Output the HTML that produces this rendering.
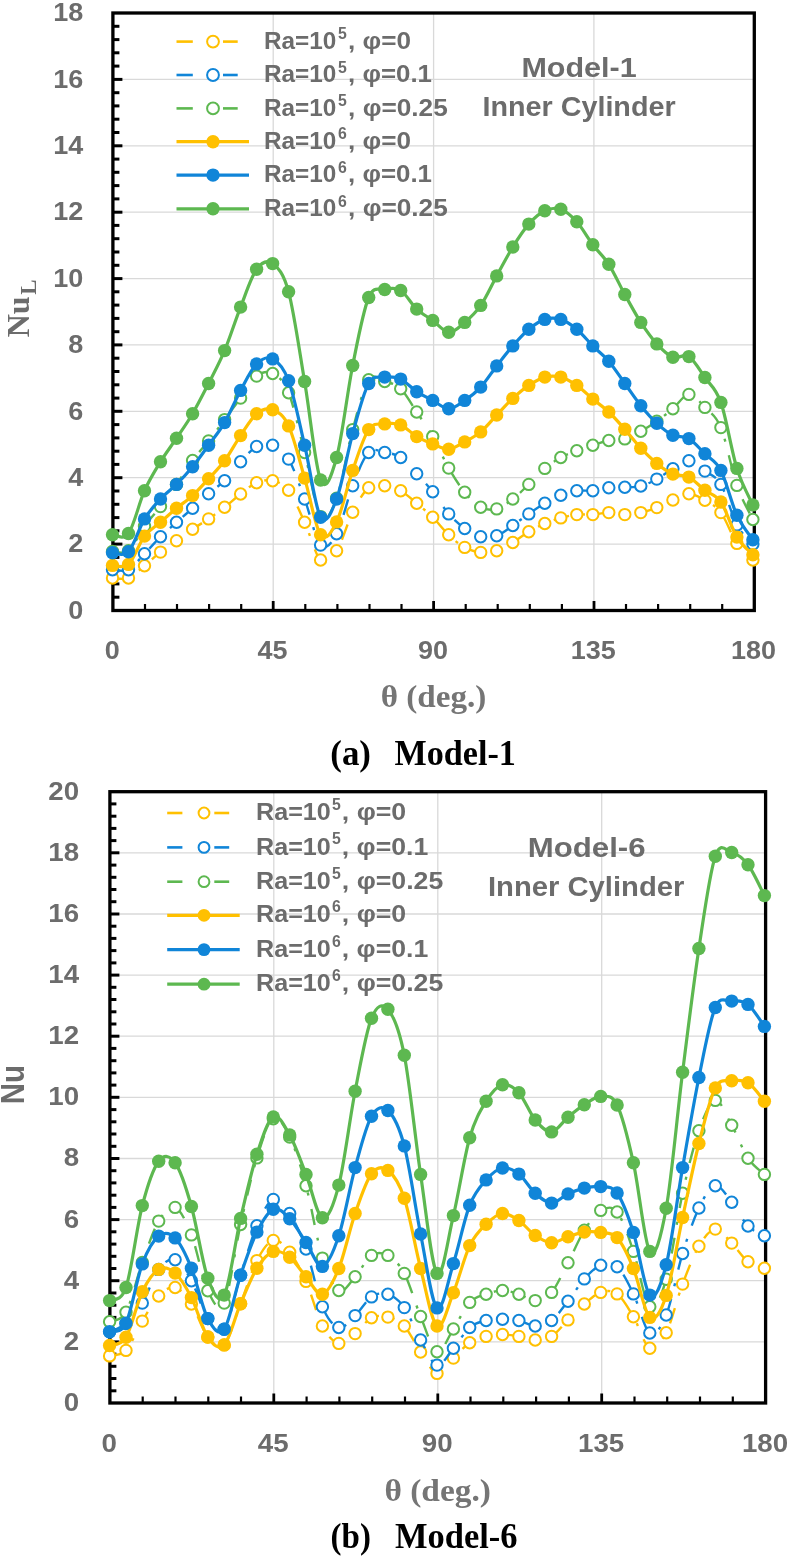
<!DOCTYPE html>
<html><head><meta charset="utf-8"><title>Nu charts</title>
<style>html,body{margin:0;padding:0;background:#fff}svg{display:block;filter:blur(0.45px)}</style>
</head><body>
<svg width="792" height="1557" viewBox="0 0 792 1557">
<rect width="792" height="1557" fill="#fff"/>
<line x1="112.9" y1="544.1" x2="754.3" y2="544.1" stroke="#d9d9d9" stroke-width="1.3"/>
<line x1="112.9" y1="477.7" x2="754.3" y2="477.7" stroke="#d9d9d9" stroke-width="1.3"/>
<line x1="112.9" y1="411.3" x2="754.3" y2="411.3" stroke="#d9d9d9" stroke-width="1.3"/>
<line x1="112.9" y1="344.9" x2="754.3" y2="344.9" stroke="#d9d9d9" stroke-width="1.3"/>
<line x1="112.9" y1="278.6" x2="754.3" y2="278.6" stroke="#d9d9d9" stroke-width="1.3"/>
<line x1="112.9" y1="212.2" x2="754.3" y2="212.2" stroke="#d9d9d9" stroke-width="1.3"/>
<line x1="112.9" y1="145.8" x2="754.3" y2="145.8" stroke="#d9d9d9" stroke-width="1.3"/>
<line x1="112.9" y1="79.4" x2="754.3" y2="79.4" stroke="#d9d9d9" stroke-width="1.3"/>
<line x1="273.2" y1="13.0" x2="273.2" y2="610.5" stroke="#d9d9d9" stroke-width="1.3"/>
<line x1="433.6" y1="13.0" x2="433.6" y2="610.5" stroke="#d9d9d9" stroke-width="1.3"/>
<line x1="593.9" y1="13.0" x2="593.9" y2="610.5" stroke="#d9d9d9" stroke-width="1.3"/>
<rect x="112.9" y="13.0" width="641.4" height="597.5" fill="none" stroke="#000" stroke-width="3.3"/>
<g stroke="#000">
<line x1="112.9" y1="597.2" x2="119.4" y2="597.2" stroke-width="3"/>
<line x1="112.9" y1="583.9" x2="119.4" y2="583.9" stroke-width="3"/>
<line x1="112.9" y1="570.7" x2="119.4" y2="570.7" stroke-width="3"/>
<line x1="112.9" y1="557.4" x2="119.4" y2="557.4" stroke-width="3"/>
<line x1="112.9" y1="544.1" x2="122.4" y2="544.1" stroke-width="3"/>
<line x1="112.9" y1="530.8" x2="119.4" y2="530.8" stroke-width="3"/>
<line x1="112.9" y1="517.6" x2="119.4" y2="517.6" stroke-width="3"/>
<line x1="112.9" y1="504.3" x2="119.4" y2="504.3" stroke-width="3"/>
<line x1="112.9" y1="491.0" x2="119.4" y2="491.0" stroke-width="3"/>
<line x1="112.9" y1="477.7" x2="122.4" y2="477.7" stroke-width="3"/>
<line x1="112.9" y1="464.4" x2="119.4" y2="464.4" stroke-width="3"/>
<line x1="112.9" y1="451.2" x2="119.4" y2="451.2" stroke-width="3"/>
<line x1="112.9" y1="437.9" x2="119.4" y2="437.9" stroke-width="3"/>
<line x1="112.9" y1="424.6" x2="119.4" y2="424.6" stroke-width="3"/>
<line x1="112.9" y1="411.3" x2="122.4" y2="411.3" stroke-width="3"/>
<line x1="112.9" y1="398.1" x2="119.4" y2="398.1" stroke-width="3"/>
<line x1="112.9" y1="384.8" x2="119.4" y2="384.8" stroke-width="3"/>
<line x1="112.9" y1="371.5" x2="119.4" y2="371.5" stroke-width="3"/>
<line x1="112.9" y1="358.2" x2="119.4" y2="358.2" stroke-width="3"/>
<line x1="112.9" y1="344.9" x2="122.4" y2="344.9" stroke-width="3"/>
<line x1="112.9" y1="331.7" x2="119.4" y2="331.7" stroke-width="3"/>
<line x1="112.9" y1="318.4" x2="119.4" y2="318.4" stroke-width="3"/>
<line x1="112.9" y1="305.1" x2="119.4" y2="305.1" stroke-width="3"/>
<line x1="112.9" y1="291.8" x2="119.4" y2="291.8" stroke-width="3"/>
<line x1="112.9" y1="278.6" x2="122.4" y2="278.6" stroke-width="3"/>
<line x1="112.9" y1="265.3" x2="119.4" y2="265.3" stroke-width="3"/>
<line x1="112.9" y1="252.0" x2="119.4" y2="252.0" stroke-width="3"/>
<line x1="112.9" y1="238.7" x2="119.4" y2="238.7" stroke-width="3"/>
<line x1="112.9" y1="225.4" x2="119.4" y2="225.4" stroke-width="3"/>
<line x1="112.9" y1="212.2" x2="122.4" y2="212.2" stroke-width="3"/>
<line x1="112.9" y1="198.9" x2="119.4" y2="198.9" stroke-width="3"/>
<line x1="112.9" y1="185.6" x2="119.4" y2="185.6" stroke-width="3"/>
<line x1="112.9" y1="172.3" x2="119.4" y2="172.3" stroke-width="3"/>
<line x1="112.9" y1="159.1" x2="119.4" y2="159.1" stroke-width="3"/>
<line x1="112.9" y1="145.8" x2="122.4" y2="145.8" stroke-width="3"/>
<line x1="112.9" y1="132.5" x2="119.4" y2="132.5" stroke-width="3"/>
<line x1="112.9" y1="119.2" x2="119.4" y2="119.2" stroke-width="3"/>
<line x1="112.9" y1="105.9" x2="119.4" y2="105.9" stroke-width="3"/>
<line x1="112.9" y1="92.7" x2="119.4" y2="92.7" stroke-width="3"/>
<line x1="112.9" y1="79.4" x2="122.4" y2="79.4" stroke-width="3"/>
<line x1="112.9" y1="66.1" x2="119.4" y2="66.1" stroke-width="3"/>
<line x1="112.9" y1="52.8" x2="119.4" y2="52.8" stroke-width="3"/>
<line x1="112.9" y1="39.6" x2="119.4" y2="39.6" stroke-width="3"/>
<line x1="112.9" y1="26.3" x2="119.4" y2="26.3" stroke-width="3"/>
<line x1="145.0" y1="610.5" x2="145.0" y2="604.0" stroke-width="2.2"/>
<line x1="177.0" y1="610.5" x2="177.0" y2="604.0" stroke-width="2.2"/>
<line x1="209.1" y1="610.5" x2="209.1" y2="604.0" stroke-width="2.2"/>
<line x1="241.2" y1="610.5" x2="241.2" y2="604.0" stroke-width="2.2"/>
<line x1="273.2" y1="610.5" x2="273.2" y2="601.0" stroke-width="2.8"/>
<line x1="305.3" y1="610.5" x2="305.3" y2="604.0" stroke-width="2.2"/>
<line x1="337.4" y1="610.5" x2="337.4" y2="604.0" stroke-width="2.2"/>
<line x1="369.5" y1="610.5" x2="369.5" y2="604.0" stroke-width="2.2"/>
<line x1="401.5" y1="610.5" x2="401.5" y2="604.0" stroke-width="2.2"/>
<line x1="433.6" y1="610.5" x2="433.6" y2="601.0" stroke-width="2.8"/>
<line x1="465.7" y1="610.5" x2="465.7" y2="604.0" stroke-width="2.2"/>
<line x1="497.7" y1="610.5" x2="497.7" y2="604.0" stroke-width="2.2"/>
<line x1="529.8" y1="610.5" x2="529.8" y2="604.0" stroke-width="2.2"/>
<line x1="561.9" y1="610.5" x2="561.9" y2="604.0" stroke-width="2.2"/>
<line x1="594.0" y1="610.5" x2="594.0" y2="601.0" stroke-width="2.8"/>
<line x1="626.0" y1="610.5" x2="626.0" y2="604.0" stroke-width="2.2"/>
<line x1="658.1" y1="610.5" x2="658.1" y2="604.0" stroke-width="2.2"/>
<line x1="690.2" y1="610.5" x2="690.2" y2="604.0" stroke-width="2.2"/>
<line x1="722.2" y1="610.5" x2="722.2" y2="604.0" stroke-width="2.2"/>
</g>
<line x1="176.5" y1="41.6" x2="192.8" y2="41.6" stroke="#FFC000" stroke-width="2.6"/>
<line x1="223" y1="41.6" x2="237.7" y2="41.6" stroke="#FFC000" stroke-width="2.6"/>
<circle cx="213" cy="41.6" r="5.9" fill="#fff" stroke="#FFC000" stroke-width="2"/>
<text x="263.9" y="48.8" font-family="Liberation Sans" font-weight="bold" font-size="23.5" fill="#6c6c6c" textLength="72.3" lengthAdjust="spacingAndGlyphs">Ra=10</text>
<text x="338.0" y="39.3" font-family="Liberation Sans" font-weight="bold" font-size="16" fill="#6c6c6c" textLength="8.8" lengthAdjust="spacingAndGlyphs">5</text>
<text x="348.1" y="48.8" font-family="Liberation Sans" font-weight="bold" font-size="23.5" fill="#6c6c6c" textLength="63.0" lengthAdjust="spacingAndGlyphs">, φ=0</text>
<line x1="176.5" y1="75.0" x2="192.8" y2="75.0" stroke="#1085D8" stroke-width="2.6"/>
<line x1="223" y1="75.0" x2="237.7" y2="75.0" stroke="#1085D8" stroke-width="2.6"/>
<circle cx="213" cy="75.0" r="5.9" fill="#fff" stroke="#1085D8" stroke-width="2"/>
<text x="263.9" y="82.2" font-family="Liberation Sans" font-weight="bold" font-size="23.5" fill="#6c6c6c" textLength="72.3" lengthAdjust="spacingAndGlyphs">Ra=10</text>
<text x="338.0" y="72.7" font-family="Liberation Sans" font-weight="bold" font-size="16" fill="#6c6c6c" textLength="8.8" lengthAdjust="spacingAndGlyphs">5</text>
<text x="348.1" y="82.2" font-family="Liberation Sans" font-weight="bold" font-size="23.5" fill="#6c6c6c" textLength="83.9" lengthAdjust="spacingAndGlyphs">, φ=0.1</text>
<line x1="176.5" y1="108.4" x2="192.8" y2="108.4" stroke="#5DB850" stroke-width="2.6"/>
<line x1="223" y1="108.4" x2="237.7" y2="108.4" stroke="#5DB850" stroke-width="2.6"/>
<circle cx="213" cy="108.4" r="5.9" fill="#fff" stroke="#5DB850" stroke-width="2"/>
<text x="263.9" y="115.6" font-family="Liberation Sans" font-weight="bold" font-size="23.5" fill="#6c6c6c" textLength="72.3" lengthAdjust="spacingAndGlyphs">Ra=10</text>
<text x="338.0" y="106.1" font-family="Liberation Sans" font-weight="bold" font-size="16" fill="#6c6c6c" textLength="8.8" lengthAdjust="spacingAndGlyphs">5</text>
<text x="348.1" y="115.6" font-family="Liberation Sans" font-weight="bold" font-size="23.5" fill="#6c6c6c" textLength="99.7" lengthAdjust="spacingAndGlyphs">, φ=0.25</text>
<line x1="176.5" y1="141.7" x2="249" y2="141.7" stroke="#FFC000" stroke-width="3.2"/>
<circle cx="213" cy="141.7" r="6.7" fill="#FFC000"/>
<text x="263.9" y="148.9" font-family="Liberation Sans" font-weight="bold" font-size="23.5" fill="#6c6c6c" textLength="72.3" lengthAdjust="spacingAndGlyphs">Ra=10</text>
<text x="338.0" y="139.4" font-family="Liberation Sans" font-weight="bold" font-size="16" fill="#6c6c6c" textLength="8.8" lengthAdjust="spacingAndGlyphs">6</text>
<text x="348.1" y="148.9" font-family="Liberation Sans" font-weight="bold" font-size="23.5" fill="#6c6c6c" textLength="63.0" lengthAdjust="spacingAndGlyphs">, φ=0</text>
<line x1="176.5" y1="175.1" x2="249" y2="175.1" stroke="#1085D8" stroke-width="3.2"/>
<circle cx="213" cy="175.1" r="6.7" fill="#1085D8"/>
<text x="263.9" y="182.3" font-family="Liberation Sans" font-weight="bold" font-size="23.5" fill="#6c6c6c" textLength="72.3" lengthAdjust="spacingAndGlyphs">Ra=10</text>
<text x="338.0" y="172.8" font-family="Liberation Sans" font-weight="bold" font-size="16" fill="#6c6c6c" textLength="8.8" lengthAdjust="spacingAndGlyphs">6</text>
<text x="348.1" y="182.3" font-family="Liberation Sans" font-weight="bold" font-size="23.5" fill="#6c6c6c" textLength="83.9" lengthAdjust="spacingAndGlyphs">, φ=0.1</text>
<line x1="176.5" y1="208.8" x2="249" y2="208.8" stroke="#5DB850" stroke-width="3.2"/>
<circle cx="213" cy="208.8" r="6.7" fill="#5DB850"/>
<text x="263.9" y="216.0" font-family="Liberation Sans" font-weight="bold" font-size="23.5" fill="#6c6c6c" textLength="72.3" lengthAdjust="spacingAndGlyphs">Ra=10</text>
<text x="338.0" y="206.5" font-family="Liberation Sans" font-weight="bold" font-size="16" fill="#6c6c6c" textLength="8.8" lengthAdjust="spacingAndGlyphs">6</text>
<text x="348.1" y="216.0" font-family="Liberation Sans" font-weight="bold" font-size="23.5" fill="#6c6c6c" textLength="99.7" lengthAdjust="spacingAndGlyphs">, φ=0.25</text>
<text x="521.4" y="76.9" font-family="Liberation Sans" font-weight="bold" font-size="28" fill="#6c6c6c" textLength="115.3" lengthAdjust="spacingAndGlyphs">Model-1</text>
<text x="482.5" y="116.4" font-family="Liberation Sans" font-weight="bold" font-size="28" fill="#6c6c6c" textLength="193.1" lengthAdjust="spacingAndGlyphs">Inner Cylinder</text>
<path d="M112.5,578.0C115.2,578.0 123.2,580.0 128.5,578.0C133.8,575.9 139.2,570.0 144.5,565.7C149.9,561.4 155.2,556.2 160.5,552.1C165.9,547.9 171.2,544.6 176.5,540.8C181.9,537.0 187.2,532.8 192.6,529.2C197.9,525.5 203.2,522.5 208.6,518.9C213.9,515.2 219.2,511.4 224.6,507.3C229.9,503.1 235.2,498.1 240.6,494.0C245.9,489.9 251.3,484.9 256.6,482.7C261.9,480.5 267.3,479.4 272.6,480.7C277.9,482.0 283.3,483.4 288.6,490.3C293.9,497.3 299.3,510.6 304.6,522.2C310.0,533.8 315.3,555.3 320.6,560.0C326.0,564.8 331.3,558.7 336.6,550.8C342.0,542.8 347.3,522.8 352.7,512.2C358.0,501.7 363.3,492.1 368.7,487.7C374.0,483.3 379.3,485.2 384.7,485.7C390.0,486.2 395.3,487.7 400.7,490.7C406.0,493.6 411.4,498.9 416.7,503.3C422.0,507.7 427.4,512.0 432.7,517.2C438.0,522.5 443.4,529.8 448.7,534.8C454.0,539.9 459.4,544.5 464.7,547.4C470.1,550.4 475.4,551.9 480.7,552.4C486.1,553.0 491.4,552.4 496.7,550.8C502.1,549.1 507.4,545.6 512.8,542.5C518.1,539.3 523.4,535.0 528.8,531.8C534.1,528.7 539.4,525.9 544.8,523.5C550.1,521.2 555.4,519.4 560.8,517.9C566.1,516.4 571.5,515.1 576.8,514.6C582.1,514.0 587.5,514.9 592.8,514.6C598.1,514.2 603.5,512.6 608.8,512.6C614.1,512.6 619.5,514.6 624.8,514.6C630.2,514.6 635.5,513.7 640.8,512.6C646.2,511.4 651.5,509.7 656.8,507.6C662.2,505.5 667.5,502.3 672.9,500.0C678.2,497.6 683.5,493.6 688.9,493.7C694.2,493.7 699.5,497.1 704.9,500.3C710.2,503.4 715.5,505.4 720.9,512.6C726.2,519.8 731.6,535.5 736.9,543.4C742.2,551.4 750.2,557.3 752.9,560.0" fill="none" stroke="#FFC000" stroke-width="2.4" stroke-dasharray="16 13 3 14"/>
<g fill="#fff" stroke="#FFC000" stroke-width="2">
<circle cx="112.5" cy="578.0" r="5.7"/>
<circle cx="128.5" cy="578.0" r="5.7"/>
<circle cx="144.5" cy="565.7" r="5.7"/>
<circle cx="160.5" cy="552.1" r="5.7"/>
<circle cx="176.5" cy="540.8" r="5.7"/>
<circle cx="192.6" cy="529.2" r="5.7"/>
<circle cx="208.6" cy="518.9" r="5.7"/>
<circle cx="224.6" cy="507.3" r="5.7"/>
<circle cx="240.6" cy="494.0" r="5.7"/>
<circle cx="256.6" cy="482.7" r="5.7"/>
<circle cx="272.6" cy="480.7" r="5.7"/>
<circle cx="288.6" cy="490.3" r="5.7"/>
<circle cx="304.6" cy="522.2" r="5.7"/>
<circle cx="320.6" cy="560.0" r="5.7"/>
<circle cx="336.6" cy="550.8" r="5.7"/>
<circle cx="352.7" cy="512.2" r="5.7"/>
<circle cx="368.7" cy="487.7" r="5.7"/>
<circle cx="384.7" cy="485.7" r="5.7"/>
<circle cx="400.7" cy="490.7" r="5.7"/>
<circle cx="416.7" cy="503.3" r="5.7"/>
<circle cx="432.7" cy="517.2" r="5.7"/>
<circle cx="448.7" cy="534.8" r="5.7"/>
<circle cx="464.7" cy="547.4" r="5.7"/>
<circle cx="480.7" cy="552.4" r="5.7"/>
<circle cx="496.7" cy="550.8" r="5.7"/>
<circle cx="512.8" cy="542.5" r="5.7"/>
<circle cx="528.8" cy="531.8" r="5.7"/>
<circle cx="544.8" cy="523.5" r="5.7"/>
<circle cx="560.8" cy="517.9" r="5.7"/>
<circle cx="576.8" cy="514.6" r="5.7"/>
<circle cx="592.8" cy="514.6" r="5.7"/>
<circle cx="608.8" cy="512.6" r="5.7"/>
<circle cx="624.8" cy="514.6" r="5.7"/>
<circle cx="640.8" cy="512.6" r="5.7"/>
<circle cx="656.8" cy="507.6" r="5.7"/>
<circle cx="672.9" cy="500.0" r="5.7"/>
<circle cx="688.9" cy="493.7" r="5.7"/>
<circle cx="704.9" cy="500.3" r="5.7"/>
<circle cx="720.9" cy="512.6" r="5.7"/>
<circle cx="736.9" cy="543.4" r="5.7"/>
<circle cx="752.9" cy="560.0" r="5.7"/>
</g>
<path d="M112.5,569.7C115.2,569.7 123.2,572.3 128.5,569.7C133.8,567.0 139.2,559.2 144.5,553.7C149.9,548.3 155.2,542.1 160.5,536.8C165.9,531.6 171.2,527.0 176.5,522.2C181.9,517.4 187.2,513.0 192.6,508.3C197.9,503.5 203.2,498.2 208.6,493.7C213.9,489.1 219.2,486.0 224.6,480.7C229.9,475.4 235.2,467.5 240.6,461.8C245.9,456.1 251.3,449.3 256.6,446.5C261.9,443.8 267.3,443.1 272.6,445.2C277.9,447.3 283.3,450.2 288.6,459.1C293.9,468.1 299.3,484.6 304.6,499.0C310.0,513.3 315.3,539.3 320.6,545.1C326.0,550.9 331.3,543.7 336.6,533.8C342.0,523.9 347.3,499.2 352.7,485.7C358.0,472.1 363.3,458.0 368.7,452.5C374.0,447.0 379.3,451.7 384.7,452.5C390.0,453.3 395.3,453.9 400.7,457.5C406.0,461.0 411.4,468.0 416.7,473.7C422.0,479.4 427.4,485.0 432.7,491.7C438.0,498.4 443.4,507.8 448.7,513.9C454.0,520.0 459.4,524.7 464.7,528.5C470.1,532.3 475.4,535.6 480.7,536.8C486.1,538.0 491.4,537.7 496.7,535.8C502.1,533.9 507.4,529.2 512.8,525.5C518.1,521.9 523.4,517.6 528.8,513.9C534.1,510.2 539.4,506.4 544.8,503.3C550.1,500.2 555.4,497.4 560.8,495.3C566.1,493.2 571.5,491.4 576.8,490.7C582.1,489.9 587.5,491.2 592.8,490.7C598.1,490.2 603.5,488.2 608.8,487.7C614.1,487.1 619.5,487.6 624.8,487.3C630.2,487.1 635.5,487.4 640.8,486.0C646.2,484.6 651.5,481.9 656.8,479.1C662.2,476.2 667.5,471.8 672.9,468.8C678.2,465.7 683.5,460.4 688.9,460.8C694.2,461.2 699.5,467.2 704.9,471.1C710.2,475.0 715.5,475.4 720.9,484.4C726.2,493.3 731.6,514.9 736.9,524.9C742.2,534.8 750.2,540.9 752.9,544.1" fill="none" stroke="#1085D8" stroke-width="2.4" stroke-dasharray="16 13 3 14"/>
<g fill="#fff" stroke="#1085D8" stroke-width="2">
<circle cx="112.5" cy="569.7" r="5.7"/>
<circle cx="128.5" cy="569.7" r="5.7"/>
<circle cx="144.5" cy="553.7" r="5.7"/>
<circle cx="160.5" cy="536.8" r="5.7"/>
<circle cx="176.5" cy="522.2" r="5.7"/>
<circle cx="192.6" cy="508.3" r="5.7"/>
<circle cx="208.6" cy="493.7" r="5.7"/>
<circle cx="224.6" cy="480.7" r="5.7"/>
<circle cx="240.6" cy="461.8" r="5.7"/>
<circle cx="256.6" cy="446.5" r="5.7"/>
<circle cx="272.6" cy="445.2" r="5.7"/>
<circle cx="288.6" cy="459.1" r="5.7"/>
<circle cx="304.6" cy="499.0" r="5.7"/>
<circle cx="320.6" cy="545.1" r="5.7"/>
<circle cx="336.6" cy="533.8" r="5.7"/>
<circle cx="352.7" cy="485.7" r="5.7"/>
<circle cx="368.7" cy="452.5" r="5.7"/>
<circle cx="384.7" cy="452.5" r="5.7"/>
<circle cx="400.7" cy="457.5" r="5.7"/>
<circle cx="416.7" cy="473.7" r="5.7"/>
<circle cx="432.7" cy="491.7" r="5.7"/>
<circle cx="448.7" cy="513.9" r="5.7"/>
<circle cx="464.7" cy="528.5" r="5.7"/>
<circle cx="480.7" cy="536.8" r="5.7"/>
<circle cx="496.7" cy="535.8" r="5.7"/>
<circle cx="512.8" cy="525.5" r="5.7"/>
<circle cx="528.8" cy="513.9" r="5.7"/>
<circle cx="544.8" cy="503.3" r="5.7"/>
<circle cx="560.8" cy="495.3" r="5.7"/>
<circle cx="576.8" cy="490.7" r="5.7"/>
<circle cx="592.8" cy="490.7" r="5.7"/>
<circle cx="608.8" cy="487.7" r="5.7"/>
<circle cx="624.8" cy="487.3" r="5.7"/>
<circle cx="640.8" cy="486.0" r="5.7"/>
<circle cx="656.8" cy="479.1" r="5.7"/>
<circle cx="672.9" cy="468.8" r="5.7"/>
<circle cx="688.9" cy="460.8" r="5.7"/>
<circle cx="704.9" cy="471.1" r="5.7"/>
<circle cx="720.9" cy="484.4" r="5.7"/>
<circle cx="736.9" cy="524.9" r="5.7"/>
<circle cx="752.9" cy="544.1" r="5.7"/>
</g>
<path d="M112.5,551.4C115.2,551.3 123.2,555.0 128.5,550.8C133.8,546.5 139.2,533.5 144.5,526.2C149.9,518.8 155.2,513.6 160.5,506.6C165.9,499.6 171.2,492.1 176.5,484.4C181.9,476.7 187.2,467.7 192.6,460.5C197.9,453.2 203.2,447.7 208.6,440.9C213.9,434.1 219.2,426.8 224.6,419.6C229.9,412.5 235.2,405.3 240.6,398.1C245.9,390.8 251.3,380.2 256.6,376.1C261.9,372.1 267.3,370.7 272.6,373.5C277.9,376.3 283.3,379.6 288.6,392.7C293.9,405.9 299.3,431.9 304.6,452.5C310.0,473.1 315.3,508.9 320.6,516.6C326.0,524.2 331.3,512.8 336.6,498.3C342.0,483.8 347.3,449.3 352.7,429.6C358.0,409.8 363.3,387.8 368.7,379.8C374.0,371.8 379.3,380.0 384.7,381.5C390.0,383.0 395.3,383.7 400.7,388.8C406.0,393.9 411.4,404.0 416.7,412.0C422.0,420.0 427.4,427.2 432.7,436.6C438.0,445.9 443.4,458.8 448.7,468.1C454.0,477.4 459.4,485.8 464.7,492.3C470.1,498.9 475.4,504.5 480.7,507.3C486.1,510.0 491.4,510.3 496.7,508.9C502.1,507.5 507.4,503.1 512.8,499.0C518.1,494.9 523.4,489.5 528.8,484.4C534.1,479.3 539.4,472.9 544.8,468.4C550.1,463.9 555.4,460.4 560.8,457.5C566.1,454.5 571.5,452.9 576.8,450.8C582.1,448.8 587.5,446.9 592.8,445.2C598.1,443.5 603.5,441.6 608.8,440.5C614.1,439.5 619.5,440.4 624.8,438.9C630.2,437.3 635.5,434.2 640.8,431.2C646.2,428.3 651.5,425.1 656.8,421.3C662.2,417.5 667.5,413.2 672.9,408.7C678.2,404.2 683.5,394.6 688.9,394.4C694.2,394.2 699.5,401.8 704.9,407.4C710.2,412.9 715.5,414.6 720.9,427.6C726.2,440.6 731.6,470.0 736.9,485.4C742.2,500.7 750.2,513.8 752.9,519.5" fill="none" stroke="#5DB850" stroke-width="2.4" stroke-dasharray="16 13 3 14"/>
<g fill="#fff" stroke="#5DB850" stroke-width="2">
<circle cx="112.5" cy="551.4" r="5.7"/>
<circle cx="128.5" cy="550.8" r="5.7"/>
<circle cx="144.5" cy="526.2" r="5.7"/>
<circle cx="160.5" cy="506.6" r="5.7"/>
<circle cx="176.5" cy="484.4" r="5.7"/>
<circle cx="192.6" cy="460.5" r="5.7"/>
<circle cx="208.6" cy="440.9" r="5.7"/>
<circle cx="224.6" cy="419.6" r="5.7"/>
<circle cx="240.6" cy="398.1" r="5.7"/>
<circle cx="256.6" cy="376.1" r="5.7"/>
<circle cx="272.6" cy="373.5" r="5.7"/>
<circle cx="288.6" cy="392.7" r="5.7"/>
<circle cx="304.6" cy="452.5" r="5.7"/>
<circle cx="320.6" cy="516.6" r="5.7"/>
<circle cx="336.6" cy="498.3" r="5.7"/>
<circle cx="352.7" cy="429.6" r="5.7"/>
<circle cx="368.7" cy="379.8" r="5.7"/>
<circle cx="384.7" cy="381.5" r="5.7"/>
<circle cx="400.7" cy="388.8" r="5.7"/>
<circle cx="416.7" cy="412.0" r="5.7"/>
<circle cx="432.7" cy="436.6" r="5.7"/>
<circle cx="448.7" cy="468.1" r="5.7"/>
<circle cx="464.7" cy="492.3" r="5.7"/>
<circle cx="480.7" cy="507.3" r="5.7"/>
<circle cx="496.7" cy="508.9" r="5.7"/>
<circle cx="512.8" cy="499.0" r="5.7"/>
<circle cx="528.8" cy="484.4" r="5.7"/>
<circle cx="544.8" cy="468.4" r="5.7"/>
<circle cx="560.8" cy="457.5" r="5.7"/>
<circle cx="576.8" cy="450.8" r="5.7"/>
<circle cx="592.8" cy="445.2" r="5.7"/>
<circle cx="608.8" cy="440.5" r="5.7"/>
<circle cx="624.8" cy="438.9" r="5.7"/>
<circle cx="640.8" cy="431.2" r="5.7"/>
<circle cx="656.8" cy="421.3" r="5.7"/>
<circle cx="672.9" cy="408.7" r="5.7"/>
<circle cx="688.9" cy="394.4" r="5.7"/>
<circle cx="704.9" cy="407.4" r="5.7"/>
<circle cx="720.9" cy="427.6" r="5.7"/>
<circle cx="736.9" cy="485.4" r="5.7"/>
<circle cx="752.9" cy="519.5" r="5.7"/>
</g>
<path d="M112.5,565.4C115.2,565.2 123.2,569.2 128.5,564.4C133.8,559.5 139.2,543.2 144.5,536.1C149.9,529.1 155.2,526.9 160.5,522.2C165.9,517.6 171.2,512.7 176.5,508.3C181.9,503.8 187.2,500.6 192.6,495.6C197.9,490.7 203.2,484.5 208.6,478.7C213.9,472.9 219.2,468.0 224.6,460.8C229.9,453.6 235.2,443.4 240.6,435.6C245.9,427.7 251.3,418.0 256.6,413.7C261.9,409.3 267.3,407.6 272.6,409.7C277.9,411.7 283.3,414.5 288.6,425.9C293.9,437.3 299.3,459.9 304.6,478.1C310.0,496.2 315.3,527.5 320.6,534.8C326.0,542.1 331.3,532.6 336.6,521.9C342.0,511.1 347.3,485.8 352.7,470.4C358.0,455.0 363.3,437.3 368.7,429.6C374.0,421.8 379.3,424.7 384.7,423.9C390.0,423.2 395.3,422.8 400.7,424.9C406.0,427.0 411.4,433.4 416.7,436.6C422.0,439.7 427.4,441.8 432.7,443.9C438.0,446.0 443.4,449.5 448.7,449.2C454.0,448.8 459.4,444.7 464.7,441.9C470.1,439.0 475.4,436.4 480.7,431.9C486.1,427.4 491.4,420.6 496.7,415.0C502.1,409.4 507.4,403.3 512.8,398.4C518.1,393.5 523.4,389.0 528.8,385.4C534.1,381.9 539.4,378.5 544.8,377.1C550.1,375.8 555.4,375.8 560.8,377.1C566.1,378.5 571.5,381.8 576.8,385.4C582.1,389.1 587.5,394.6 592.8,399.1C598.1,403.5 603.5,407.0 608.8,412.0C614.1,417.0 619.5,423.2 624.8,429.3C630.2,435.3 635.5,442.5 640.8,448.2C646.2,453.9 651.5,459.1 656.8,463.4C662.2,467.8 667.5,471.8 672.9,474.1C678.2,476.3 683.5,474.3 688.9,477.1C694.2,479.8 699.5,486.2 704.9,490.3C710.2,494.5 715.5,494.2 720.9,502.0C726.2,509.8 731.6,528.3 736.9,537.1C742.2,545.9 750.2,551.8 752.9,554.7" fill="none" stroke="#FFC000" stroke-width="3.2" stroke-linejoin="round"/>
<g fill="#FFC000">
<circle cx="112.5" cy="565.4" r="6.7"/>
<circle cx="128.5" cy="564.4" r="6.7"/>
<circle cx="144.5" cy="536.1" r="6.7"/>
<circle cx="160.5" cy="522.2" r="6.7"/>
<circle cx="176.5" cy="508.3" r="6.7"/>
<circle cx="192.6" cy="495.6" r="6.7"/>
<circle cx="208.6" cy="478.7" r="6.7"/>
<circle cx="224.6" cy="460.8" r="6.7"/>
<circle cx="240.6" cy="435.6" r="6.7"/>
<circle cx="256.6" cy="413.7" r="6.7"/>
<circle cx="272.6" cy="409.7" r="6.7"/>
<circle cx="288.6" cy="425.9" r="6.7"/>
<circle cx="304.6" cy="478.1" r="6.7"/>
<circle cx="320.6" cy="534.8" r="6.7"/>
<circle cx="336.6" cy="521.9" r="6.7"/>
<circle cx="352.7" cy="470.4" r="6.7"/>
<circle cx="368.7" cy="429.6" r="6.7"/>
<circle cx="384.7" cy="423.9" r="6.7"/>
<circle cx="400.7" cy="424.9" r="6.7"/>
<circle cx="416.7" cy="436.6" r="6.7"/>
<circle cx="432.7" cy="443.9" r="6.7"/>
<circle cx="448.7" cy="449.2" r="6.7"/>
<circle cx="464.7" cy="441.9" r="6.7"/>
<circle cx="480.7" cy="431.9" r="6.7"/>
<circle cx="496.7" cy="415.0" r="6.7"/>
<circle cx="512.8" cy="398.4" r="6.7"/>
<circle cx="528.8" cy="385.4" r="6.7"/>
<circle cx="544.8" cy="377.1" r="6.7"/>
<circle cx="560.8" cy="377.1" r="6.7"/>
<circle cx="576.8" cy="385.4" r="6.7"/>
<circle cx="592.8" cy="399.1" r="6.7"/>
<circle cx="608.8" cy="412.0" r="6.7"/>
<circle cx="624.8" cy="429.3" r="6.7"/>
<circle cx="640.8" cy="448.2" r="6.7"/>
<circle cx="656.8" cy="463.4" r="6.7"/>
<circle cx="672.9" cy="474.1" r="6.7"/>
<circle cx="688.9" cy="477.1" r="6.7"/>
<circle cx="704.9" cy="490.3" r="6.7"/>
<circle cx="720.9" cy="502.0" r="6.7"/>
<circle cx="736.9" cy="537.1" r="6.7"/>
<circle cx="752.9" cy="554.7" r="6.7"/>
</g>
<path d="M112.5,552.7C115.2,552.6 123.2,557.4 128.5,551.7C133.8,546.1 139.2,527.7 144.5,518.9C149.9,510.1 155.2,504.7 160.5,499.0C165.9,493.2 171.2,489.7 176.5,484.4C181.9,479.0 187.2,473.3 192.6,466.8C197.9,460.2 203.2,452.5 208.6,445.2C213.9,437.8 219.2,431.7 224.6,422.6C229.9,413.5 235.2,400.2 240.6,390.4C245.9,380.6 251.3,369.1 256.6,363.9C261.9,358.6 267.3,356.1 272.6,358.9C277.9,361.7 283.3,366.4 288.6,380.8C293.9,395.2 299.3,422.5 304.6,445.2C310.0,467.9 315.3,508.3 320.6,517.2C326.0,526.2 331.3,512.9 336.6,499.0C342.0,485.0 347.3,452.8 352.7,433.6C358.0,414.3 363.3,392.9 368.7,383.5C374.0,374.0 379.3,377.9 384.7,377.1C390.0,376.4 395.3,376.7 400.7,379.1C406.0,381.6 411.4,388.2 416.7,391.7C422.0,395.3 427.4,397.6 432.7,400.4C438.0,403.2 443.4,408.7 448.7,408.7C454.0,408.7 459.4,404.0 464.7,400.4C470.1,396.8 475.4,392.9 480.7,387.1C486.1,381.3 491.4,372.7 496.7,365.9C502.1,359.0 507.4,352.0 512.8,345.9C518.1,339.9 523.4,333.8 528.8,329.3C534.1,324.9 539.4,321.0 544.8,319.4C550.1,317.7 555.4,317.7 560.8,319.4C566.1,321.0 571.5,324.9 576.8,329.3C582.1,333.8 587.5,340.6 592.8,345.9C598.1,351.3 603.5,355.0 608.8,361.2C614.1,367.5 619.5,376.0 624.8,383.5C630.2,390.9 635.5,399.1 640.8,405.7C646.2,412.3 651.5,418.4 656.8,423.3C662.2,428.2 667.5,432.7 672.9,435.2C678.2,437.8 683.5,435.5 688.9,438.6C694.2,441.7 699.5,448.5 704.9,453.8C710.2,459.1 715.5,460.2 720.9,470.4C726.2,480.7 731.6,503.7 736.9,515.2C742.2,526.8 750.2,535.7 752.9,539.8" fill="none" stroke="#1085D8" stroke-width="3.2" stroke-linejoin="round"/>
<g fill="#1085D8">
<circle cx="112.5" cy="552.7" r="6.7"/>
<circle cx="128.5" cy="551.7" r="6.7"/>
<circle cx="144.5" cy="518.9" r="6.7"/>
<circle cx="160.5" cy="499.0" r="6.7"/>
<circle cx="176.5" cy="484.4" r="6.7"/>
<circle cx="192.6" cy="466.8" r="6.7"/>
<circle cx="208.6" cy="445.2" r="6.7"/>
<circle cx="224.6" cy="422.6" r="6.7"/>
<circle cx="240.6" cy="390.4" r="6.7"/>
<circle cx="256.6" cy="363.9" r="6.7"/>
<circle cx="272.6" cy="358.9" r="6.7"/>
<circle cx="288.6" cy="380.8" r="6.7"/>
<circle cx="304.6" cy="445.2" r="6.7"/>
<circle cx="320.6" cy="517.2" r="6.7"/>
<circle cx="336.6" cy="499.0" r="6.7"/>
<circle cx="352.7" cy="433.6" r="6.7"/>
<circle cx="368.7" cy="383.5" r="6.7"/>
<circle cx="384.7" cy="377.1" r="6.7"/>
<circle cx="400.7" cy="379.1" r="6.7"/>
<circle cx="416.7" cy="391.7" r="6.7"/>
<circle cx="432.7" cy="400.4" r="6.7"/>
<circle cx="448.7" cy="408.7" r="6.7"/>
<circle cx="464.7" cy="400.4" r="6.7"/>
<circle cx="480.7" cy="387.1" r="6.7"/>
<circle cx="496.7" cy="365.9" r="6.7"/>
<circle cx="512.8" cy="345.9" r="6.7"/>
<circle cx="528.8" cy="329.3" r="6.7"/>
<circle cx="544.8" cy="319.4" r="6.7"/>
<circle cx="560.8" cy="319.4" r="6.7"/>
<circle cx="576.8" cy="329.3" r="6.7"/>
<circle cx="592.8" cy="345.9" r="6.7"/>
<circle cx="608.8" cy="361.2" r="6.7"/>
<circle cx="624.8" cy="383.5" r="6.7"/>
<circle cx="640.8" cy="405.7" r="6.7"/>
<circle cx="656.8" cy="423.3" r="6.7"/>
<circle cx="672.9" cy="435.2" r="6.7"/>
<circle cx="688.9" cy="438.6" r="6.7"/>
<circle cx="704.9" cy="453.8" r="6.7"/>
<circle cx="720.9" cy="470.4" r="6.7"/>
<circle cx="736.9" cy="515.2" r="6.7"/>
<circle cx="752.9" cy="539.8" r="6.7"/>
</g>
<path d="M112.5,534.8C115.2,534.6 123.2,540.8 128.5,533.5C133.8,526.1 139.2,502.6 144.5,490.7C149.9,478.7 155.2,470.5 160.5,461.8C165.9,453.0 171.2,446.2 176.5,438.2C181.9,430.2 187.2,422.8 192.6,413.7C197.9,404.5 203.2,394.0 208.6,383.5C213.9,372.9 219.2,363.3 224.6,350.6C229.9,337.9 235.2,320.7 240.6,307.1C245.9,293.5 251.3,276.5 256.6,269.3C261.9,262.0 267.3,259.9 272.6,263.6C277.9,267.4 283.3,272.2 288.6,291.8C293.9,311.5 299.3,350.1 304.6,381.5C310.0,412.8 315.3,467.4 320.6,480.0C326.0,492.7 331.3,476.6 336.6,457.5C342.0,438.4 347.3,392.2 352.7,365.5C358.0,338.9 363.3,310.1 368.7,297.5C374.0,284.8 379.3,290.7 384.7,289.5C390.0,288.3 395.3,287.2 400.7,290.5C406.0,293.8 411.4,304.1 416.7,309.1C422.0,314.1 427.4,316.5 432.7,320.4C438.0,324.3 443.4,332.0 448.7,332.3C454.0,332.7 459.4,326.9 464.7,322.4C470.1,317.9 475.4,313.2 480.7,305.4C486.1,297.7 491.4,285.6 496.7,275.9C502.1,266.2 507.4,255.7 512.8,247.0C518.1,238.4 523.4,230.1 528.8,224.1C534.1,218.1 539.4,213.3 544.8,210.8C550.1,208.3 555.4,207.4 560.8,209.2C566.1,211.0 571.5,215.9 576.8,221.8C582.1,227.7 587.5,237.6 592.8,244.7C598.1,251.8 603.5,256.0 608.8,264.3C614.1,272.6 619.5,284.8 624.8,294.5C630.2,304.2 635.5,314.1 640.8,322.4C646.2,330.6 651.5,338.1 656.8,343.9C662.2,349.8 667.5,355.1 672.9,357.2C678.2,359.3 683.5,353.2 688.9,356.6C694.2,359.9 699.5,369.8 704.9,377.5C710.2,385.1 715.5,387.2 720.9,402.4C726.2,417.5 731.6,451.3 736.9,468.4C742.2,485.5 750.2,498.9 752.9,504.9" fill="none" stroke="#5DB850" stroke-width="3.2" stroke-linejoin="round"/>
<g fill="#5DB850">
<circle cx="112.5" cy="534.8" r="6.7"/>
<circle cx="128.5" cy="533.5" r="6.7"/>
<circle cx="144.5" cy="490.7" r="6.7"/>
<circle cx="160.5" cy="461.8" r="6.7"/>
<circle cx="176.5" cy="438.2" r="6.7"/>
<circle cx="192.6" cy="413.7" r="6.7"/>
<circle cx="208.6" cy="383.5" r="6.7"/>
<circle cx="224.6" cy="350.6" r="6.7"/>
<circle cx="240.6" cy="307.1" r="6.7"/>
<circle cx="256.6" cy="269.3" r="6.7"/>
<circle cx="272.6" cy="263.6" r="6.7"/>
<circle cx="288.6" cy="291.8" r="6.7"/>
<circle cx="304.6" cy="381.5" r="6.7"/>
<circle cx="320.6" cy="480.0" r="6.7"/>
<circle cx="336.6" cy="457.5" r="6.7"/>
<circle cx="352.7" cy="365.5" r="6.7"/>
<circle cx="368.7" cy="297.5" r="6.7"/>
<circle cx="384.7" cy="289.5" r="6.7"/>
<circle cx="400.7" cy="290.5" r="6.7"/>
<circle cx="416.7" cy="309.1" r="6.7"/>
<circle cx="432.7" cy="320.4" r="6.7"/>
<circle cx="448.7" cy="332.3" r="6.7"/>
<circle cx="464.7" cy="322.4" r="6.7"/>
<circle cx="480.7" cy="305.4" r="6.7"/>
<circle cx="496.7" cy="275.9" r="6.7"/>
<circle cx="512.8" cy="247.0" r="6.7"/>
<circle cx="528.8" cy="224.1" r="6.7"/>
<circle cx="544.8" cy="210.8" r="6.7"/>
<circle cx="560.8" cy="209.2" r="6.7"/>
<circle cx="576.8" cy="221.8" r="6.7"/>
<circle cx="592.8" cy="244.7" r="6.7"/>
<circle cx="608.8" cy="264.3" r="6.7"/>
<circle cx="624.8" cy="294.5" r="6.7"/>
<circle cx="640.8" cy="322.4" r="6.7"/>
<circle cx="656.8" cy="343.9" r="6.7"/>
<circle cx="672.9" cy="357.2" r="6.7"/>
<circle cx="688.9" cy="356.6" r="6.7"/>
<circle cx="704.9" cy="377.5" r="6.7"/>
<circle cx="720.9" cy="402.4" r="6.7"/>
<circle cx="736.9" cy="468.4" r="6.7"/>
<circle cx="752.9" cy="504.9" r="6.7"/>
</g>
<text x="68.2" y="618.7" font-family="Liberation Sans" font-weight="bold" font-size="25" fill="#6c6c6c" textLength="15.0" lengthAdjust="spacingAndGlyphs">0</text>
<text x="68.2" y="552.3" font-family="Liberation Sans" font-weight="bold" font-size="25" fill="#6c6c6c" textLength="15.0" lengthAdjust="spacingAndGlyphs">2</text>
<text x="68.2" y="485.9" font-family="Liberation Sans" font-weight="bold" font-size="25" fill="#6c6c6c" textLength="15.0" lengthAdjust="spacingAndGlyphs">4</text>
<text x="68.2" y="419.5" font-family="Liberation Sans" font-weight="bold" font-size="25" fill="#6c6c6c" textLength="15.0" lengthAdjust="spacingAndGlyphs">6</text>
<text x="68.2" y="353.1" font-family="Liberation Sans" font-weight="bold" font-size="25" fill="#6c6c6c" textLength="15.0" lengthAdjust="spacingAndGlyphs">8</text>
<text x="53.2" y="286.8" font-family="Liberation Sans" font-weight="bold" font-size="25" fill="#6c6c6c" textLength="30.0" lengthAdjust="spacingAndGlyphs">10</text>
<text x="53.2" y="220.4" font-family="Liberation Sans" font-weight="bold" font-size="25" fill="#6c6c6c" textLength="30.0" lengthAdjust="spacingAndGlyphs">12</text>
<text x="53.2" y="154.0" font-family="Liberation Sans" font-weight="bold" font-size="25" fill="#6c6c6c" textLength="30.0" lengthAdjust="spacingAndGlyphs">14</text>
<text x="53.2" y="87.6" font-family="Liberation Sans" font-weight="bold" font-size="25" fill="#6c6c6c" textLength="30.0" lengthAdjust="spacingAndGlyphs">16</text>
<text x="53.2" y="21.2" font-family="Liberation Sans" font-weight="bold" font-size="25" fill="#6c6c6c" textLength="30.0" lengthAdjust="spacingAndGlyphs">18</text>
<text x="104.7" y="658.6" font-family="Liberation Sans" font-weight="bold" font-size="25" fill="#6c6c6c" textLength="15.0" lengthAdjust="spacingAndGlyphs">0</text>
<text x="257.5" y="658.6" font-family="Liberation Sans" font-weight="bold" font-size="25" fill="#6c6c6c" textLength="30.0" lengthAdjust="spacingAndGlyphs">45</text>
<text x="417.9" y="658.6" font-family="Liberation Sans" font-weight="bold" font-size="25" fill="#6c6c6c" textLength="30.0" lengthAdjust="spacingAndGlyphs">90</text>
<text x="570.7" y="658.6" font-family="Liberation Sans" font-weight="bold" font-size="25" fill="#6c6c6c" textLength="45.0" lengthAdjust="spacingAndGlyphs">135</text>
<text x="731.1" y="658.6" font-family="Liberation Sans" font-weight="bold" font-size="25" fill="#6c6c6c" textLength="45.0" lengthAdjust="spacingAndGlyphs">180</text>
<line x1="109.9" y1="1341.9" x2="765.6" y2="1341.9" stroke="#d9d9d9" stroke-width="1.3"/>
<line x1="109.9" y1="1280.7" x2="765.6" y2="1280.7" stroke="#d9d9d9" stroke-width="1.3"/>
<line x1="109.9" y1="1219.6" x2="765.6" y2="1219.6" stroke="#d9d9d9" stroke-width="1.3"/>
<line x1="109.9" y1="1158.5" x2="765.6" y2="1158.5" stroke="#d9d9d9" stroke-width="1.3"/>
<line x1="109.9" y1="1097.3" x2="765.6" y2="1097.3" stroke="#d9d9d9" stroke-width="1.3"/>
<line x1="109.9" y1="1036.2" x2="765.6" y2="1036.2" stroke="#d9d9d9" stroke-width="1.3"/>
<line x1="109.9" y1="975.1" x2="765.6" y2="975.1" stroke="#d9d9d9" stroke-width="1.3"/>
<line x1="109.9" y1="914.0" x2="765.6" y2="914.0" stroke="#d9d9d9" stroke-width="1.3"/>
<line x1="109.9" y1="852.8" x2="765.6" y2="852.8" stroke="#d9d9d9" stroke-width="1.3"/>
<line x1="273.8" y1="791.7" x2="273.8" y2="1403.0" stroke="#d9d9d9" stroke-width="1.3"/>
<line x1="437.8" y1="791.7" x2="437.8" y2="1403.0" stroke="#d9d9d9" stroke-width="1.3"/>
<line x1="601.7" y1="791.7" x2="601.7" y2="1403.0" stroke="#d9d9d9" stroke-width="1.3"/>
<rect x="109.9" y="791.7" width="655.7" height="611.3" fill="none" stroke="#000" stroke-width="3.3"/>
<g stroke="#000">
<line x1="109.9" y1="1390.8" x2="116.4" y2="1390.8" stroke-width="3"/>
<line x1="109.9" y1="1378.5" x2="116.4" y2="1378.5" stroke-width="3"/>
<line x1="109.9" y1="1366.3" x2="116.4" y2="1366.3" stroke-width="3"/>
<line x1="109.9" y1="1354.1" x2="116.4" y2="1354.1" stroke-width="3"/>
<line x1="109.9" y1="1341.9" x2="119.4" y2="1341.9" stroke-width="3"/>
<line x1="109.9" y1="1329.6" x2="116.4" y2="1329.6" stroke-width="3"/>
<line x1="109.9" y1="1317.4" x2="116.4" y2="1317.4" stroke-width="3"/>
<line x1="109.9" y1="1305.2" x2="116.4" y2="1305.2" stroke-width="3"/>
<line x1="109.9" y1="1293.0" x2="116.4" y2="1293.0" stroke-width="3"/>
<line x1="109.9" y1="1280.7" x2="119.4" y2="1280.7" stroke-width="3"/>
<line x1="109.9" y1="1268.5" x2="116.4" y2="1268.5" stroke-width="3"/>
<line x1="109.9" y1="1256.3" x2="116.4" y2="1256.3" stroke-width="3"/>
<line x1="109.9" y1="1244.1" x2="116.4" y2="1244.1" stroke-width="3"/>
<line x1="109.9" y1="1231.8" x2="116.4" y2="1231.8" stroke-width="3"/>
<line x1="109.9" y1="1219.6" x2="119.4" y2="1219.6" stroke-width="3"/>
<line x1="109.9" y1="1207.4" x2="116.4" y2="1207.4" stroke-width="3"/>
<line x1="109.9" y1="1195.2" x2="116.4" y2="1195.2" stroke-width="3"/>
<line x1="109.9" y1="1182.9" x2="116.4" y2="1182.9" stroke-width="3"/>
<line x1="109.9" y1="1170.7" x2="116.4" y2="1170.7" stroke-width="3"/>
<line x1="109.9" y1="1158.5" x2="119.4" y2="1158.5" stroke-width="3"/>
<line x1="109.9" y1="1146.3" x2="116.4" y2="1146.3" stroke-width="3"/>
<line x1="109.9" y1="1134.0" x2="116.4" y2="1134.0" stroke-width="3"/>
<line x1="109.9" y1="1121.8" x2="116.4" y2="1121.8" stroke-width="3"/>
<line x1="109.9" y1="1109.6" x2="116.4" y2="1109.6" stroke-width="3"/>
<line x1="109.9" y1="1097.3" x2="119.4" y2="1097.3" stroke-width="3"/>
<line x1="109.9" y1="1085.1" x2="116.4" y2="1085.1" stroke-width="3"/>
<line x1="109.9" y1="1072.9" x2="116.4" y2="1072.9" stroke-width="3"/>
<line x1="109.9" y1="1060.7" x2="116.4" y2="1060.7" stroke-width="3"/>
<line x1="109.9" y1="1048.4" x2="116.4" y2="1048.4" stroke-width="3"/>
<line x1="109.9" y1="1036.2" x2="119.4" y2="1036.2" stroke-width="3"/>
<line x1="109.9" y1="1024.0" x2="116.4" y2="1024.0" stroke-width="3"/>
<line x1="109.9" y1="1011.8" x2="116.4" y2="1011.8" stroke-width="3"/>
<line x1="109.9" y1="999.5" x2="116.4" y2="999.5" stroke-width="3"/>
<line x1="109.9" y1="987.3" x2="116.4" y2="987.3" stroke-width="3"/>
<line x1="109.9" y1="975.1" x2="119.4" y2="975.1" stroke-width="3"/>
<line x1="109.9" y1="962.9" x2="116.4" y2="962.9" stroke-width="3"/>
<line x1="109.9" y1="950.6" x2="116.4" y2="950.6" stroke-width="3"/>
<line x1="109.9" y1="938.4" x2="116.4" y2="938.4" stroke-width="3"/>
<line x1="109.9" y1="926.2" x2="116.4" y2="926.2" stroke-width="3"/>
<line x1="109.9" y1="914.0" x2="119.4" y2="914.0" stroke-width="3"/>
<line x1="109.9" y1="901.7" x2="116.4" y2="901.7" stroke-width="3"/>
<line x1="109.9" y1="889.5" x2="116.4" y2="889.5" stroke-width="3"/>
<line x1="109.9" y1="877.3" x2="116.4" y2="877.3" stroke-width="3"/>
<line x1="109.9" y1="865.1" x2="116.4" y2="865.1" stroke-width="3"/>
<line x1="109.9" y1="852.8" x2="119.4" y2="852.8" stroke-width="3"/>
<line x1="109.9" y1="840.6" x2="116.4" y2="840.6" stroke-width="3"/>
<line x1="109.9" y1="828.4" x2="116.4" y2="828.4" stroke-width="3"/>
<line x1="109.9" y1="816.2" x2="116.4" y2="816.2" stroke-width="3"/>
<line x1="109.9" y1="803.9" x2="116.4" y2="803.9" stroke-width="3"/>
<line x1="142.7" y1="1403.0" x2="142.7" y2="1396.5" stroke-width="2.2"/>
<line x1="175.5" y1="1403.0" x2="175.5" y2="1396.5" stroke-width="2.2"/>
<line x1="208.3" y1="1403.0" x2="208.3" y2="1396.5" stroke-width="2.2"/>
<line x1="241.0" y1="1403.0" x2="241.0" y2="1396.5" stroke-width="2.2"/>
<line x1="273.8" y1="1403.0" x2="273.8" y2="1393.5" stroke-width="2.8"/>
<line x1="306.6" y1="1403.0" x2="306.6" y2="1396.5" stroke-width="2.2"/>
<line x1="339.4" y1="1403.0" x2="339.4" y2="1396.5" stroke-width="2.2"/>
<line x1="372.2" y1="1403.0" x2="372.2" y2="1396.5" stroke-width="2.2"/>
<line x1="405.0" y1="1403.0" x2="405.0" y2="1396.5" stroke-width="2.2"/>
<line x1="437.8" y1="1403.0" x2="437.8" y2="1393.5" stroke-width="2.8"/>
<line x1="470.5" y1="1403.0" x2="470.5" y2="1396.5" stroke-width="2.2"/>
<line x1="503.3" y1="1403.0" x2="503.3" y2="1396.5" stroke-width="2.2"/>
<line x1="536.1" y1="1403.0" x2="536.1" y2="1396.5" stroke-width="2.2"/>
<line x1="568.9" y1="1403.0" x2="568.9" y2="1396.5" stroke-width="2.2"/>
<line x1="601.7" y1="1403.0" x2="601.7" y2="1393.5" stroke-width="2.8"/>
<line x1="634.5" y1="1403.0" x2="634.5" y2="1396.5" stroke-width="2.2"/>
<line x1="667.2" y1="1403.0" x2="667.2" y2="1396.5" stroke-width="2.2"/>
<line x1="700.0" y1="1403.0" x2="700.0" y2="1396.5" stroke-width="2.2"/>
<line x1="732.8" y1="1403.0" x2="732.8" y2="1396.5" stroke-width="2.2"/>
</g>
<line x1="167.2" y1="813" x2="182.39999999999998" y2="813" stroke="#FFC000" stroke-width="2.6"/>
<line x1="214.3" y1="813" x2="229.2" y2="813" stroke="#FFC000" stroke-width="2.6"/>
<circle cx="204" cy="813" r="5.4" fill="#fff" stroke="#FFC000" stroke-width="2"/>
<text x="256.1" y="820.1" font-family="Liberation Sans" font-weight="bold" font-size="23.5" fill="#6c6c6c" textLength="74.7" lengthAdjust="spacingAndGlyphs">Ra=10</text>
<text x="332.1" y="809.9" font-family="Liberation Sans" font-weight="bold" font-size="16" fill="#6c6c6c" textLength="8.8" lengthAdjust="spacingAndGlyphs">5</text>
<text x="341.8" y="820.1" font-family="Liberation Sans" font-weight="bold" font-size="23.5" fill="#6c6c6c" textLength="64.4" lengthAdjust="spacingAndGlyphs">, φ=0</text>
<line x1="167.2" y1="847.4" x2="182.39999999999998" y2="847.4" stroke="#1085D8" stroke-width="2.6"/>
<line x1="214.3" y1="847.4" x2="229.2" y2="847.4" stroke="#1085D8" stroke-width="2.6"/>
<circle cx="204" cy="847.4" r="5.4" fill="#fff" stroke="#1085D8" stroke-width="2"/>
<text x="256.1" y="854.5" font-family="Liberation Sans" font-weight="bold" font-size="23.5" fill="#6c6c6c" textLength="74.7" lengthAdjust="spacingAndGlyphs">Ra=10</text>
<text x="332.1" y="844.3" font-family="Liberation Sans" font-weight="bold" font-size="16" fill="#6c6c6c" textLength="8.8" lengthAdjust="spacingAndGlyphs">5</text>
<text x="341.8" y="854.5" font-family="Liberation Sans" font-weight="bold" font-size="23.5" fill="#6c6c6c" textLength="86.4" lengthAdjust="spacingAndGlyphs">, φ=0.1</text>
<line x1="167.2" y1="881.7" x2="182.39999999999998" y2="881.7" stroke="#5DB850" stroke-width="2.6"/>
<line x1="214.3" y1="881.7" x2="229.2" y2="881.7" stroke="#5DB850" stroke-width="2.6"/>
<circle cx="204" cy="881.7" r="5.4" fill="#fff" stroke="#5DB850" stroke-width="2"/>
<text x="256.1" y="888.8" font-family="Liberation Sans" font-weight="bold" font-size="23.5" fill="#6c6c6c" textLength="74.7" lengthAdjust="spacingAndGlyphs">Ra=10</text>
<text x="332.1" y="878.6" font-family="Liberation Sans" font-weight="bold" font-size="16" fill="#6c6c6c" textLength="8.8" lengthAdjust="spacingAndGlyphs">5</text>
<text x="341.8" y="888.8" font-family="Liberation Sans" font-weight="bold" font-size="23.5" fill="#6c6c6c" textLength="101.5" lengthAdjust="spacingAndGlyphs">, φ=0.25</text>
<line x1="167.2" y1="915.3" x2="239.7" y2="915.3" stroke="#FFC000" stroke-width="3.2"/>
<circle cx="204" cy="915.3" r="6.4" fill="#FFC000"/>
<text x="256.1" y="922.4" font-family="Liberation Sans" font-weight="bold" font-size="23.5" fill="#6c6c6c" textLength="74.7" lengthAdjust="spacingAndGlyphs">Ra=10</text>
<text x="332.1" y="912.2" font-family="Liberation Sans" font-weight="bold" font-size="16" fill="#6c6c6c" textLength="8.8" lengthAdjust="spacingAndGlyphs">6</text>
<text x="341.8" y="922.4" font-family="Liberation Sans" font-weight="bold" font-size="23.5" fill="#6c6c6c" textLength="64.4" lengthAdjust="spacingAndGlyphs">, φ=0</text>
<line x1="167.2" y1="949.6" x2="239.7" y2="949.6" stroke="#1085D8" stroke-width="3.2"/>
<circle cx="204" cy="949.6" r="6.4" fill="#1085D8"/>
<text x="256.1" y="956.7" font-family="Liberation Sans" font-weight="bold" font-size="23.5" fill="#6c6c6c" textLength="74.7" lengthAdjust="spacingAndGlyphs">Ra=10</text>
<text x="332.1" y="946.5" font-family="Liberation Sans" font-weight="bold" font-size="16" fill="#6c6c6c" textLength="8.8" lengthAdjust="spacingAndGlyphs">6</text>
<text x="341.8" y="956.7" font-family="Liberation Sans" font-weight="bold" font-size="23.5" fill="#6c6c6c" textLength="86.4" lengthAdjust="spacingAndGlyphs">, φ=0.1</text>
<line x1="167.2" y1="984.2" x2="239.7" y2="984.2" stroke="#5DB850" stroke-width="3.2"/>
<circle cx="204" cy="984.2" r="6.4" fill="#5DB850"/>
<text x="256.1" y="991.3" font-family="Liberation Sans" font-weight="bold" font-size="23.5" fill="#6c6c6c" textLength="74.7" lengthAdjust="spacingAndGlyphs">Ra=10</text>
<text x="332.1" y="981.1" font-family="Liberation Sans" font-weight="bold" font-size="16" fill="#6c6c6c" textLength="8.8" lengthAdjust="spacingAndGlyphs">6</text>
<text x="341.8" y="991.3" font-family="Liberation Sans" font-weight="bold" font-size="23.5" fill="#6c6c6c" textLength="101.5" lengthAdjust="spacingAndGlyphs">, φ=0.25</text>
<text x="527.8" y="856.9" font-family="Liberation Sans" font-weight="bold" font-size="28" fill="#6c6c6c" textLength="117.8" lengthAdjust="spacingAndGlyphs">Model-6</text>
<text x="488.0" y="896.4" font-family="Liberation Sans" font-weight="bold" font-size="28" fill="#6c6c6c" textLength="196.4" lengthAdjust="spacingAndGlyphs">Inner Cylinder</text>
<path d="M109.6,1355.9C112.3,1355.0 120.5,1356.2 126.0,1350.4C131.4,1344.6 136.9,1330.2 142.3,1321.1C147.8,1312.0 153.3,1301.6 158.7,1296.0C164.2,1290.4 169.6,1286.1 175.1,1287.5C180.5,1288.8 186.0,1295.7 191.4,1304.0C196.9,1312.2 202.4,1330.2 207.8,1337.0C213.3,1343.8 218.7,1350.5 224.2,1344.9C229.6,1339.4 235.1,1317.7 240.6,1303.7C246.0,1289.6 251.5,1271.1 256.9,1260.6C262.4,1250.0 267.8,1241.8 273.3,1240.4C278.8,1239.0 284.2,1245.5 289.7,1252.3C295.1,1259.1 300.6,1269.1 306.0,1281.4C311.5,1293.6 317.0,1315.6 322.4,1326.0C327.9,1336.3 333.3,1342.1 338.8,1343.4C344.2,1344.7 349.7,1337.9 355.1,1333.6C360.6,1329.3 366.1,1320.5 371.5,1317.7C377.0,1315.0 382.4,1315.7 387.9,1317.1C393.3,1318.5 398.8,1320.2 404.3,1326.0C409.7,1331.8 415.2,1344.1 420.6,1352.0C426.1,1359.9 431.5,1372.3 437.0,1373.4C442.5,1374.4 447.9,1363.2 453.4,1358.1C458.8,1353.0 464.3,1346.4 469.7,1342.8C475.2,1339.2 480.7,1337.7 486.1,1336.4C491.6,1335.0 497.0,1334.5 502.5,1334.5C507.9,1334.5 513.4,1335.5 518.9,1336.4C524.3,1337.3 529.8,1340.0 535.2,1340.0C540.7,1340.0 546.1,1339.7 551.6,1336.4C557.0,1333.0 562.5,1325.3 568.0,1319.9C573.4,1314.5 578.9,1308.6 584.3,1304.0C589.8,1299.4 595.2,1294.0 600.7,1292.4C606.2,1290.7 611.6,1289.8 617.1,1293.9C622.5,1298.0 628.0,1307.7 633.4,1316.8C638.9,1325.9 644.4,1345.6 649.8,1348.3C655.3,1350.9 660.7,1343.4 666.2,1332.7C671.6,1322.0 677.1,1298.5 682.6,1284.1C688.0,1269.7 693.5,1255.4 698.9,1246.2C704.4,1237.0 709.8,1229.6 715.3,1229.1C720.7,1228.6 726.2,1237.7 731.7,1243.1C737.1,1248.6 742.6,1257.6 748.0,1261.8C753.5,1266.0 761.7,1267.1 764.4,1268.2" fill="none" stroke="#FFC000" stroke-width="2.4" stroke-dasharray="16 13 3 14"/>
<g fill="#fff" stroke="#FFC000" stroke-width="2">
<circle cx="109.6" cy="1355.9" r="5.7"/>
<circle cx="126.0" cy="1350.4" r="5.7"/>
<circle cx="142.3" cy="1321.1" r="5.7"/>
<circle cx="158.7" cy="1296.0" r="5.7"/>
<circle cx="175.1" cy="1287.5" r="5.7"/>
<circle cx="191.4" cy="1304.0" r="5.7"/>
<circle cx="207.8" cy="1337.0" r="5.7"/>
<circle cx="224.2" cy="1344.9" r="5.7"/>
<circle cx="240.6" cy="1303.7" r="5.7"/>
<circle cx="256.9" cy="1260.6" r="5.7"/>
<circle cx="273.3" cy="1240.4" r="5.7"/>
<circle cx="289.7" cy="1252.3" r="5.7"/>
<circle cx="306.0" cy="1281.4" r="5.7"/>
<circle cx="322.4" cy="1326.0" r="5.7"/>
<circle cx="338.8" cy="1343.4" r="5.7"/>
<circle cx="355.1" cy="1333.6" r="5.7"/>
<circle cx="371.5" cy="1317.7" r="5.7"/>
<circle cx="387.9" cy="1317.1" r="5.7"/>
<circle cx="404.3" cy="1326.0" r="5.7"/>
<circle cx="420.6" cy="1352.0" r="5.7"/>
<circle cx="437.0" cy="1373.4" r="5.7"/>
<circle cx="453.4" cy="1358.1" r="5.7"/>
<circle cx="469.7" cy="1342.8" r="5.7"/>
<circle cx="486.1" cy="1336.4" r="5.7"/>
<circle cx="502.5" cy="1334.5" r="5.7"/>
<circle cx="518.9" cy="1336.4" r="5.7"/>
<circle cx="535.2" cy="1340.0" r="5.7"/>
<circle cx="551.6" cy="1336.4" r="5.7"/>
<circle cx="568.0" cy="1319.9" r="5.7"/>
<circle cx="584.3" cy="1304.0" r="5.7"/>
<circle cx="600.7" cy="1292.4" r="5.7"/>
<circle cx="617.1" cy="1293.9" r="5.7"/>
<circle cx="633.4" cy="1316.8" r="5.7"/>
<circle cx="649.8" cy="1348.3" r="5.7"/>
<circle cx="666.2" cy="1332.7" r="5.7"/>
<circle cx="682.6" cy="1284.1" r="5.7"/>
<circle cx="698.9" cy="1246.2" r="5.7"/>
<circle cx="715.3" cy="1229.1" r="5.7"/>
<circle cx="731.7" cy="1243.1" r="5.7"/>
<circle cx="748.0" cy="1261.8" r="5.7"/>
<circle cx="764.4" cy="1268.2" r="5.7"/>
</g>
<path d="M109.6,1331.8C112.3,1330.4 120.5,1328.3 126.0,1323.5C131.4,1318.7 136.9,1312.1 142.3,1303.1C147.8,1294.0 153.3,1276.7 158.7,1269.4C164.2,1262.2 169.6,1257.8 175.1,1259.7C180.5,1261.5 186.0,1270.9 191.4,1280.7C196.9,1290.6 202.4,1310.5 207.8,1318.6C213.3,1326.7 218.7,1336.6 224.2,1329.3C229.6,1322.1 235.1,1292.5 240.6,1275.2C246.0,1258.0 251.5,1238.4 256.9,1225.7C262.4,1213.1 267.8,1201.5 273.3,1199.4C278.8,1197.4 284.2,1205.2 289.7,1213.5C295.1,1221.7 300.6,1233.4 306.0,1249.0C311.5,1264.5 317.0,1293.6 322.4,1306.7C327.9,1319.8 333.3,1326.0 338.8,1327.5C344.2,1329.0 349.7,1320.7 355.1,1315.6C360.6,1310.5 366.1,1300.5 371.5,1296.9C377.0,1293.4 382.4,1292.4 387.9,1294.2C393.3,1296.0 398.8,1300.0 404.3,1307.6C409.7,1315.3 415.2,1330.5 420.6,1340.0C426.1,1349.6 431.5,1363.7 437.0,1365.1C442.5,1366.5 447.9,1354.6 453.4,1348.3C458.8,1342.0 464.3,1332.1 469.7,1327.5C475.2,1322.9 480.7,1321.8 486.1,1320.5C491.6,1319.1 497.0,1319.3 502.5,1319.3C507.9,1319.3 513.4,1319.4 518.9,1320.5C524.3,1321.6 529.8,1326.0 535.2,1326.0C540.7,1326.0 546.1,1324.6 551.6,1320.5C557.0,1316.3 562.5,1308.1 568.0,1301.2C573.4,1294.3 578.9,1284.9 584.3,1278.9C589.8,1272.9 595.2,1267.2 600.7,1265.2C606.2,1263.1 611.6,1261.9 617.1,1266.7C622.5,1271.5 628.0,1282.8 633.4,1293.9C638.9,1304.9 644.4,1329.5 649.8,1333.0C655.3,1336.5 660.7,1328.2 666.2,1315.0C671.6,1301.7 677.1,1271.4 682.6,1253.5C688.0,1235.7 693.5,1219.3 698.9,1208.0C704.4,1196.7 709.8,1186.7 715.3,1185.7C720.7,1184.7 726.2,1195.5 731.7,1202.2C737.1,1208.9 742.6,1220.4 748.0,1226.0C753.5,1231.6 761.7,1234.2 764.4,1235.8" fill="none" stroke="#1085D8" stroke-width="2.4" stroke-dasharray="16 13 3 14"/>
<g fill="#fff" stroke="#1085D8" stroke-width="2">
<circle cx="109.6" cy="1331.8" r="5.7"/>
<circle cx="126.0" cy="1323.5" r="5.7"/>
<circle cx="142.3" cy="1303.1" r="5.7"/>
<circle cx="158.7" cy="1269.4" r="5.7"/>
<circle cx="175.1" cy="1259.7" r="5.7"/>
<circle cx="191.4" cy="1280.7" r="5.7"/>
<circle cx="207.8" cy="1318.6" r="5.7"/>
<circle cx="224.2" cy="1329.3" r="5.7"/>
<circle cx="240.6" cy="1275.2" r="5.7"/>
<circle cx="256.9" cy="1225.7" r="5.7"/>
<circle cx="273.3" cy="1199.4" r="5.7"/>
<circle cx="289.7" cy="1213.5" r="5.7"/>
<circle cx="306.0" cy="1249.0" r="5.7"/>
<circle cx="322.4" cy="1306.7" r="5.7"/>
<circle cx="338.8" cy="1327.5" r="5.7"/>
<circle cx="355.1" cy="1315.6" r="5.7"/>
<circle cx="371.5" cy="1296.9" r="5.7"/>
<circle cx="387.9" cy="1294.2" r="5.7"/>
<circle cx="404.3" cy="1307.6" r="5.7"/>
<circle cx="420.6" cy="1340.0" r="5.7"/>
<circle cx="437.0" cy="1365.1" r="5.7"/>
<circle cx="453.4" cy="1348.3" r="5.7"/>
<circle cx="469.7" cy="1327.5" r="5.7"/>
<circle cx="486.1" cy="1320.5" r="5.7"/>
<circle cx="502.5" cy="1319.3" r="5.7"/>
<circle cx="518.9" cy="1320.5" r="5.7"/>
<circle cx="535.2" cy="1326.0" r="5.7"/>
<circle cx="551.6" cy="1320.5" r="5.7"/>
<circle cx="568.0" cy="1301.2" r="5.7"/>
<circle cx="584.3" cy="1278.9" r="5.7"/>
<circle cx="600.7" cy="1265.2" r="5.7"/>
<circle cx="617.1" cy="1266.7" r="5.7"/>
<circle cx="633.4" cy="1293.9" r="5.7"/>
<circle cx="649.8" cy="1333.0" r="5.7"/>
<circle cx="666.2" cy="1315.0" r="5.7"/>
<circle cx="682.6" cy="1253.5" r="5.7"/>
<circle cx="698.9" cy="1208.0" r="5.7"/>
<circle cx="715.3" cy="1185.7" r="5.7"/>
<circle cx="731.7" cy="1202.2" r="5.7"/>
<circle cx="748.0" cy="1226.0" r="5.7"/>
<circle cx="764.4" cy="1235.8" r="5.7"/>
</g>
<path d="M109.6,1321.7C112.3,1320.1 120.5,1322.1 126.0,1312.2C131.4,1302.3 136.9,1277.6 142.3,1262.4C147.8,1247.2 153.3,1230.3 158.7,1221.1C164.2,1212.0 169.6,1205.1 175.1,1207.4C180.5,1209.7 186.0,1221.0 191.4,1234.9C196.9,1248.8 202.4,1279.5 207.8,1290.8C213.3,1302.2 218.7,1314.1 224.2,1303.1C229.6,1292.0 235.1,1248.7 240.6,1224.5C246.0,1200.3 251.5,1175.5 256.9,1157.9C262.4,1140.2 267.8,1122.2 273.3,1118.7C278.8,1115.3 284.2,1125.9 289.7,1137.1C295.1,1148.2 300.6,1165.5 306.0,1185.7C311.5,1205.9 317.0,1240.6 322.4,1258.1C327.9,1275.6 333.3,1287.4 338.8,1290.5C344.2,1293.6 349.7,1282.6 355.1,1276.8C360.6,1270.9 366.1,1258.9 371.5,1255.4C377.0,1251.8 382.4,1252.4 387.9,1255.4C393.3,1258.4 398.8,1263.2 404.3,1273.4C409.7,1283.6 415.2,1303.5 420.6,1316.5C426.1,1329.5 431.5,1349.6 437.0,1351.7C442.5,1353.7 447.9,1337.2 453.4,1329.0C458.8,1320.8 464.3,1308.2 469.7,1302.4C475.2,1296.6 480.7,1296.2 486.1,1294.2C491.6,1292.2 497.0,1290.5 502.5,1290.5C507.9,1290.5 513.4,1292.5 518.9,1294.2C524.3,1295.9 529.8,1300.9 535.2,1300.6C540.7,1300.3 546.1,1298.7 551.6,1292.4C557.0,1286.0 562.5,1273.0 568.0,1262.7C573.4,1252.4 578.9,1239.0 584.3,1230.3C589.8,1221.6 595.2,1213.5 600.7,1210.4C606.2,1207.4 611.6,1205.1 617.1,1212.0C622.5,1218.8 628.0,1235.6 633.4,1251.4C638.9,1267.2 644.4,1302.1 649.8,1306.7C655.3,1311.4 660.7,1298.1 666.2,1279.2C671.6,1260.3 677.1,1218.1 682.6,1193.3C688.0,1168.6 693.5,1146.2 698.9,1130.7C704.4,1115.2 709.8,1101.3 715.3,1100.4C720.7,1099.5 726.2,1115.5 731.7,1125.2C737.1,1134.8 742.6,1150.0 748.0,1158.2C753.5,1166.4 761.7,1171.7 764.4,1174.4" fill="none" stroke="#5DB850" stroke-width="2.4" stroke-dasharray="16 13 3 14"/>
<g fill="#fff" stroke="#5DB850" stroke-width="2">
<circle cx="109.6" cy="1321.7" r="5.7"/>
<circle cx="126.0" cy="1312.2" r="5.7"/>
<circle cx="142.3" cy="1262.4" r="5.7"/>
<circle cx="158.7" cy="1221.1" r="5.7"/>
<circle cx="175.1" cy="1207.4" r="5.7"/>
<circle cx="191.4" cy="1234.9" r="5.7"/>
<circle cx="207.8" cy="1290.8" r="5.7"/>
<circle cx="224.2" cy="1303.1" r="5.7"/>
<circle cx="240.6" cy="1224.5" r="5.7"/>
<circle cx="256.9" cy="1157.9" r="5.7"/>
<circle cx="273.3" cy="1118.7" r="5.7"/>
<circle cx="289.7" cy="1137.1" r="5.7"/>
<circle cx="306.0" cy="1185.7" r="5.7"/>
<circle cx="322.4" cy="1258.1" r="5.7"/>
<circle cx="338.8" cy="1290.5" r="5.7"/>
<circle cx="355.1" cy="1276.8" r="5.7"/>
<circle cx="371.5" cy="1255.4" r="5.7"/>
<circle cx="387.9" cy="1255.4" r="5.7"/>
<circle cx="404.3" cy="1273.4" r="5.7"/>
<circle cx="420.6" cy="1316.5" r="5.7"/>
<circle cx="437.0" cy="1351.7" r="5.7"/>
<circle cx="453.4" cy="1329.0" r="5.7"/>
<circle cx="469.7" cy="1302.4" r="5.7"/>
<circle cx="486.1" cy="1294.2" r="5.7"/>
<circle cx="502.5" cy="1290.5" r="5.7"/>
<circle cx="518.9" cy="1294.2" r="5.7"/>
<circle cx="535.2" cy="1300.6" r="5.7"/>
<circle cx="551.6" cy="1292.4" r="5.7"/>
<circle cx="568.0" cy="1262.7" r="5.7"/>
<circle cx="584.3" cy="1230.3" r="5.7"/>
<circle cx="600.7" cy="1210.4" r="5.7"/>
<circle cx="617.1" cy="1212.0" r="5.7"/>
<circle cx="633.4" cy="1251.4" r="5.7"/>
<circle cx="649.8" cy="1306.7" r="5.7"/>
<circle cx="666.2" cy="1279.2" r="5.7"/>
<circle cx="682.6" cy="1193.3" r="5.7"/>
<circle cx="698.9" cy="1130.7" r="5.7"/>
<circle cx="715.3" cy="1100.4" r="5.7"/>
<circle cx="731.7" cy="1125.2" r="5.7"/>
<circle cx="748.0" cy="1158.2" r="5.7"/>
<circle cx="764.4" cy="1174.4" r="5.7"/>
</g>
<path d="M109.6,1345.5C112.3,1344.2 120.5,1346.3 126.0,1337.3C131.4,1328.3 136.9,1303.1 142.3,1291.7C147.8,1280.4 153.3,1272.5 158.7,1269.4C164.2,1266.3 169.6,1268.4 175.1,1273.1C180.5,1277.8 186.0,1286.9 191.4,1297.6C196.9,1308.2 202.4,1329.1 207.8,1337.0C213.3,1344.9 218.7,1350.5 224.2,1344.9C229.6,1339.4 235.1,1316.5 240.6,1303.7C246.0,1290.9 251.5,1276.9 256.9,1268.2C262.4,1259.5 267.8,1253.2 273.3,1251.4C278.8,1249.6 284.2,1253.0 289.7,1257.2C295.1,1261.4 300.6,1270.6 306.0,1276.8C311.5,1282.9 317.0,1295.6 322.4,1294.2C327.9,1292.8 333.3,1282.0 338.8,1268.5C344.2,1255.1 349.7,1229.3 355.1,1213.5C360.6,1197.7 366.1,1180.9 371.5,1173.8C377.0,1166.6 382.4,1166.3 387.9,1170.4C393.3,1174.5 398.8,1181.9 404.3,1198.2C409.7,1214.6 415.2,1247.2 420.6,1268.5C426.1,1289.8 431.5,1322.0 437.0,1326.0C442.5,1330.0 447.9,1306.1 453.4,1292.7C458.8,1279.3 464.3,1257.0 469.7,1245.6C475.2,1234.2 480.7,1229.5 486.1,1224.2C491.6,1218.8 497.0,1214.1 502.5,1213.5C507.9,1212.9 513.4,1216.9 518.9,1220.5C524.3,1224.2 529.8,1231.8 535.2,1235.5C540.7,1239.2 546.1,1242.6 551.6,1242.8C557.0,1243.0 562.5,1238.5 568.0,1236.7C573.4,1234.9 578.9,1232.9 584.3,1232.1C589.8,1231.4 595.2,1231.5 600.7,1232.4C606.2,1233.4 611.6,1231.6 617.1,1237.6C622.5,1243.7 628.0,1255.2 633.4,1268.5C638.9,1281.8 644.4,1312.9 649.8,1317.4C655.3,1321.9 660.7,1312.1 666.2,1295.4C671.6,1278.8 677.1,1242.8 682.6,1217.5C688.0,1192.2 693.5,1165.1 698.9,1143.5C704.4,1121.9 709.8,1098.3 715.3,1087.9C720.7,1077.4 726.2,1081.7 731.7,1080.8C737.1,1080.0 742.6,1079.3 748.0,1082.7C753.5,1086.1 761.7,1098.2 764.4,1101.3" fill="none" stroke="#FFC000" stroke-width="3.2" stroke-linejoin="round"/>
<g fill="#FFC000">
<circle cx="109.6" cy="1345.5" r="6.7"/>
<circle cx="126.0" cy="1337.3" r="6.7"/>
<circle cx="142.3" cy="1291.7" r="6.7"/>
<circle cx="158.7" cy="1269.4" r="6.7"/>
<circle cx="175.1" cy="1273.1" r="6.7"/>
<circle cx="191.4" cy="1297.6" r="6.7"/>
<circle cx="207.8" cy="1337.0" r="6.7"/>
<circle cx="224.2" cy="1344.9" r="6.7"/>
<circle cx="240.6" cy="1303.7" r="6.7"/>
<circle cx="256.9" cy="1268.2" r="6.7"/>
<circle cx="273.3" cy="1251.4" r="6.7"/>
<circle cx="289.7" cy="1257.2" r="6.7"/>
<circle cx="306.0" cy="1276.8" r="6.7"/>
<circle cx="322.4" cy="1294.2" r="6.7"/>
<circle cx="338.8" cy="1268.5" r="6.7"/>
<circle cx="355.1" cy="1213.5" r="6.7"/>
<circle cx="371.5" cy="1173.8" r="6.7"/>
<circle cx="387.9" cy="1170.4" r="6.7"/>
<circle cx="404.3" cy="1198.2" r="6.7"/>
<circle cx="420.6" cy="1268.5" r="6.7"/>
<circle cx="437.0" cy="1326.0" r="6.7"/>
<circle cx="453.4" cy="1292.7" r="6.7"/>
<circle cx="469.7" cy="1245.6" r="6.7"/>
<circle cx="486.1" cy="1224.2" r="6.7"/>
<circle cx="502.5" cy="1213.5" r="6.7"/>
<circle cx="518.9" cy="1220.5" r="6.7"/>
<circle cx="535.2" cy="1235.5" r="6.7"/>
<circle cx="551.6" cy="1242.8" r="6.7"/>
<circle cx="568.0" cy="1236.7" r="6.7"/>
<circle cx="584.3" cy="1232.1" r="6.7"/>
<circle cx="600.7" cy="1232.4" r="6.7"/>
<circle cx="617.1" cy="1237.6" r="6.7"/>
<circle cx="633.4" cy="1268.5" r="6.7"/>
<circle cx="649.8" cy="1317.4" r="6.7"/>
<circle cx="666.2" cy="1295.4" r="6.7"/>
<circle cx="682.6" cy="1217.5" r="6.7"/>
<circle cx="698.9" cy="1143.5" r="6.7"/>
<circle cx="715.3" cy="1087.9" r="6.7"/>
<circle cx="731.7" cy="1080.8" r="6.7"/>
<circle cx="748.0" cy="1082.7" r="6.7"/>
<circle cx="764.4" cy="1101.3" r="6.7"/>
</g>
<path d="M109.6,1331.8C112.3,1330.4 120.5,1334.5 126.0,1323.2C131.4,1311.9 136.9,1278.4 142.3,1263.9C147.8,1249.4 153.3,1240.4 158.7,1236.1C164.2,1231.8 169.6,1232.6 175.1,1237.9C180.5,1243.3 186.0,1254.8 191.4,1268.2C196.9,1281.7 202.4,1308.5 207.8,1318.6C213.3,1328.8 218.7,1336.6 224.2,1329.3C229.6,1322.1 235.1,1291.4 240.6,1275.2C246.0,1259.0 251.5,1243.1 256.9,1232.1C262.4,1221.1 267.8,1211.5 273.3,1209.2C278.8,1207.0 284.2,1213.1 289.7,1218.7C295.1,1224.2 300.6,1234.6 306.0,1242.5C311.5,1250.5 317.0,1267.5 322.4,1266.4C327.9,1265.3 333.3,1252.3 338.8,1235.8C344.2,1219.4 349.7,1187.6 355.1,1167.6C360.6,1147.7 366.1,1125.8 371.5,1116.3C377.0,1106.8 382.4,1105.6 387.9,1110.5C393.3,1115.4 398.8,1125.4 404.3,1145.9C409.7,1166.5 415.2,1207.0 420.6,1234.0C426.1,1261.0 431.5,1303.0 437.0,1307.9C442.5,1312.9 447.9,1280.7 453.4,1263.6C458.8,1246.5 464.3,1219.2 469.7,1205.2C475.2,1191.3 480.7,1186.1 486.1,1179.9C491.6,1173.7 497.0,1168.9 502.5,1168.0C507.9,1167.0 513.4,1169.8 518.9,1174.1C524.3,1178.3 529.8,1188.5 535.2,1193.3C540.7,1198.2 546.1,1203.0 551.6,1203.1C557.0,1203.2 562.5,1196.4 568.0,1193.9C573.4,1191.4 578.9,1189.4 584.3,1188.1C589.8,1186.9 595.2,1185.8 600.7,1186.6C606.2,1187.4 611.6,1185.4 617.1,1193.0C622.5,1200.7 628.0,1215.4 633.4,1232.4C638.9,1249.5 644.4,1289.7 649.8,1295.1C655.3,1300.5 660.7,1286.1 666.2,1264.8C671.6,1243.6 677.1,1198.9 682.6,1167.6C688.0,1136.4 693.5,1104.2 698.9,1077.5C704.4,1050.8 709.8,1020.2 715.3,1007.5C720.7,994.8 726.2,1001.6 731.7,1001.1C737.1,1000.6 742.6,1000.2 748.0,1004.4C753.5,1008.7 761.7,1022.8 764.4,1026.4" fill="none" stroke="#1085D8" stroke-width="3.2" stroke-linejoin="round"/>
<g fill="#1085D8">
<circle cx="109.6" cy="1331.8" r="6.7"/>
<circle cx="126.0" cy="1323.2" r="6.7"/>
<circle cx="142.3" cy="1263.9" r="6.7"/>
<circle cx="158.7" cy="1236.1" r="6.7"/>
<circle cx="175.1" cy="1237.9" r="6.7"/>
<circle cx="191.4" cy="1268.2" r="6.7"/>
<circle cx="207.8" cy="1318.6" r="6.7"/>
<circle cx="224.2" cy="1329.3" r="6.7"/>
<circle cx="240.6" cy="1275.2" r="6.7"/>
<circle cx="256.9" cy="1232.1" r="6.7"/>
<circle cx="273.3" cy="1209.2" r="6.7"/>
<circle cx="289.7" cy="1218.7" r="6.7"/>
<circle cx="306.0" cy="1242.5" r="6.7"/>
<circle cx="322.4" cy="1266.4" r="6.7"/>
<circle cx="338.8" cy="1235.8" r="6.7"/>
<circle cx="355.1" cy="1167.6" r="6.7"/>
<circle cx="371.5" cy="1116.3" r="6.7"/>
<circle cx="387.9" cy="1110.5" r="6.7"/>
<circle cx="404.3" cy="1145.9" r="6.7"/>
<circle cx="420.6" cy="1234.0" r="6.7"/>
<circle cx="437.0" cy="1307.9" r="6.7"/>
<circle cx="453.4" cy="1263.6" r="6.7"/>
<circle cx="469.7" cy="1205.2" r="6.7"/>
<circle cx="486.1" cy="1179.9" r="6.7"/>
<circle cx="502.5" cy="1168.0" r="6.7"/>
<circle cx="518.9" cy="1174.1" r="6.7"/>
<circle cx="535.2" cy="1193.3" r="6.7"/>
<circle cx="551.6" cy="1203.1" r="6.7"/>
<circle cx="568.0" cy="1193.9" r="6.7"/>
<circle cx="584.3" cy="1188.1" r="6.7"/>
<circle cx="600.7" cy="1186.6" r="6.7"/>
<circle cx="617.1" cy="1193.0" r="6.7"/>
<circle cx="633.4" cy="1232.4" r="6.7"/>
<circle cx="649.8" cy="1295.1" r="6.7"/>
<circle cx="666.2" cy="1264.8" r="6.7"/>
<circle cx="682.6" cy="1167.6" r="6.7"/>
<circle cx="698.9" cy="1077.5" r="6.7"/>
<circle cx="715.3" cy="1007.5" r="6.7"/>
<circle cx="731.7" cy="1001.1" r="6.7"/>
<circle cx="748.0" cy="1004.4" r="6.7"/>
<circle cx="764.4" cy="1026.4" r="6.7"/>
</g>
<path d="M109.6,1300.6C112.3,1298.4 120.5,1303.3 126.0,1287.5C131.4,1271.6 136.9,1226.6 142.3,1205.6C147.8,1184.5 153.3,1168.4 158.7,1161.2C164.2,1154.1 169.6,1155.2 175.1,1162.8C180.5,1170.3 186.0,1187.2 191.4,1206.5C196.9,1225.7 202.4,1263.5 207.8,1278.3C213.3,1293.1 218.7,1305.1 224.2,1295.1C229.6,1285.1 235.1,1241.9 240.6,1218.4C246.0,1194.9 251.5,1171.1 256.9,1154.2C262.4,1137.3 267.8,1120.1 273.3,1116.9C278.8,1113.7 284.2,1125.4 289.7,1134.9C295.1,1144.5 300.6,1160.6 306.0,1174.4C311.5,1188.2 317.0,1216.0 322.4,1217.8C327.9,1219.6 333.3,1206.2 338.8,1185.1C344.2,1164.0 349.7,1119.1 355.1,1091.2C360.6,1063.4 366.1,1031.8 371.5,1018.2C377.0,1004.5 382.4,1003.2 387.9,1009.3C393.3,1015.5 398.8,1027.7 404.3,1055.2C409.7,1082.7 415.2,1138.0 420.6,1174.4C426.1,1210.7 431.5,1266.5 437.0,1273.4C442.5,1280.3 447.9,1238.3 453.4,1215.6C458.8,1193.0 464.3,1156.7 469.7,1137.7C475.2,1118.6 480.7,1110.1 486.1,1101.3C491.6,1092.5 497.0,1086.2 502.5,1084.8C507.9,1083.4 513.4,1086.9 518.9,1092.8C524.3,1098.6 529.8,1113.4 535.2,1120.0C540.7,1126.5 546.1,1132.3 551.6,1131.9C557.0,1131.4 562.5,1121.8 568.0,1117.2C573.4,1112.7 578.9,1108.1 584.3,1104.7C589.8,1101.2 595.2,1096.4 600.7,1096.4C606.2,1096.5 611.6,1093.9 617.1,1105.0C622.5,1116.0 628.0,1138.4 633.4,1162.8C638.9,1187.2 644.4,1243.8 649.8,1251.4C655.3,1259.0 660.7,1238.2 666.2,1208.3C671.6,1178.4 677.1,1115.6 682.6,1072.3C688.0,1029.0 693.5,984.5 698.9,948.5C704.4,912.5 709.8,872.2 715.3,856.2C720.7,840.2 726.2,851.1 731.7,852.5C737.1,854.0 742.6,857.6 748.0,864.8C753.5,871.9 761.7,890.5 764.4,895.6" fill="none" stroke="#5DB850" stroke-width="3.2" stroke-linejoin="round"/>
<g fill="#5DB850">
<circle cx="109.6" cy="1300.6" r="6.7"/>
<circle cx="126.0" cy="1287.5" r="6.7"/>
<circle cx="142.3" cy="1205.6" r="6.7"/>
<circle cx="158.7" cy="1161.2" r="6.7"/>
<circle cx="175.1" cy="1162.8" r="6.7"/>
<circle cx="191.4" cy="1206.5" r="6.7"/>
<circle cx="207.8" cy="1278.3" r="6.7"/>
<circle cx="224.2" cy="1295.1" r="6.7"/>
<circle cx="240.6" cy="1218.4" r="6.7"/>
<circle cx="256.9" cy="1154.2" r="6.7"/>
<circle cx="273.3" cy="1116.9" r="6.7"/>
<circle cx="289.7" cy="1134.9" r="6.7"/>
<circle cx="306.0" cy="1174.4" r="6.7"/>
<circle cx="322.4" cy="1217.8" r="6.7"/>
<circle cx="338.8" cy="1185.1" r="6.7"/>
<circle cx="355.1" cy="1091.2" r="6.7"/>
<circle cx="371.5" cy="1018.2" r="6.7"/>
<circle cx="387.9" cy="1009.3" r="6.7"/>
<circle cx="404.3" cy="1055.2" r="6.7"/>
<circle cx="420.6" cy="1174.4" r="6.7"/>
<circle cx="437.0" cy="1273.4" r="6.7"/>
<circle cx="453.4" cy="1215.6" r="6.7"/>
<circle cx="469.7" cy="1137.7" r="6.7"/>
<circle cx="486.1" cy="1101.3" r="6.7"/>
<circle cx="502.5" cy="1084.8" r="6.7"/>
<circle cx="518.9" cy="1092.8" r="6.7"/>
<circle cx="535.2" cy="1120.0" r="6.7"/>
<circle cx="551.6" cy="1131.9" r="6.7"/>
<circle cx="568.0" cy="1117.2" r="6.7"/>
<circle cx="584.3" cy="1104.7" r="6.7"/>
<circle cx="600.7" cy="1096.4" r="6.7"/>
<circle cx="617.1" cy="1105.0" r="6.7"/>
<circle cx="633.4" cy="1162.8" r="6.7"/>
<circle cx="649.8" cy="1251.4" r="6.7"/>
<circle cx="666.2" cy="1208.3" r="6.7"/>
<circle cx="682.6" cy="1072.3" r="6.7"/>
<circle cx="698.9" cy="948.5" r="6.7"/>
<circle cx="715.3" cy="856.2" r="6.7"/>
<circle cx="731.7" cy="852.5" r="6.7"/>
<circle cx="748.0" cy="864.8" r="6.7"/>
<circle cx="764.4" cy="895.6" r="6.7"/>
</g>
<text x="63.7" y="1410.9" font-family="Liberation Sans" font-weight="bold" font-size="25.5" fill="#6c6c6c" textLength="15.4" lengthAdjust="spacingAndGlyphs">0</text>
<text x="63.7" y="1349.8" font-family="Liberation Sans" font-weight="bold" font-size="25.5" fill="#6c6c6c" textLength="15.4" lengthAdjust="spacingAndGlyphs">2</text>
<text x="63.7" y="1288.6" font-family="Liberation Sans" font-weight="bold" font-size="25.5" fill="#6c6c6c" textLength="15.4" lengthAdjust="spacingAndGlyphs">4</text>
<text x="63.7" y="1227.5" font-family="Liberation Sans" font-weight="bold" font-size="25.5" fill="#6c6c6c" textLength="15.4" lengthAdjust="spacingAndGlyphs">6</text>
<text x="63.7" y="1166.4" font-family="Liberation Sans" font-weight="bold" font-size="25.5" fill="#6c6c6c" textLength="15.4" lengthAdjust="spacingAndGlyphs">8</text>
<text x="48.3" y="1105.2" font-family="Liberation Sans" font-weight="bold" font-size="25.5" fill="#6c6c6c" textLength="30.8" lengthAdjust="spacingAndGlyphs">10</text>
<text x="48.3" y="1044.1" font-family="Liberation Sans" font-weight="bold" font-size="25.5" fill="#6c6c6c" textLength="30.8" lengthAdjust="spacingAndGlyphs">12</text>
<text x="48.3" y="983.0" font-family="Liberation Sans" font-weight="bold" font-size="25.5" fill="#6c6c6c" textLength="30.8" lengthAdjust="spacingAndGlyphs">14</text>
<text x="48.3" y="921.9" font-family="Liberation Sans" font-weight="bold" font-size="25.5" fill="#6c6c6c" textLength="30.8" lengthAdjust="spacingAndGlyphs">16</text>
<text x="48.3" y="860.7" font-family="Liberation Sans" font-weight="bold" font-size="25.5" fill="#6c6c6c" textLength="30.8" lengthAdjust="spacingAndGlyphs">18</text>
<text x="48.3" y="799.6" font-family="Liberation Sans" font-weight="bold" font-size="25.5" fill="#6c6c6c" textLength="30.8" lengthAdjust="spacingAndGlyphs">20</text>
<text x="101.6" y="1452.3" font-family="Liberation Sans" font-weight="bold" font-size="25.5" fill="#6c6c6c" textLength="15.4" lengthAdjust="spacingAndGlyphs">0</text>
<text x="257.8" y="1452.3" font-family="Liberation Sans" font-weight="bold" font-size="25.5" fill="#6c6c6c" textLength="30.8" lengthAdjust="spacingAndGlyphs">45</text>
<text x="421.8" y="1452.3" font-family="Liberation Sans" font-weight="bold" font-size="25.5" fill="#6c6c6c" textLength="30.8" lengthAdjust="spacingAndGlyphs">90</text>
<text x="578.0" y="1452.3" font-family="Liberation Sans" font-weight="bold" font-size="25.5" fill="#6c6c6c" textLength="46.2" lengthAdjust="spacingAndGlyphs">135</text>
<text x="741.9" y="1452.3" font-family="Liberation Sans" font-weight="bold" font-size="25.5" fill="#6c6c6c" textLength="46.2" lengthAdjust="spacingAndGlyphs">180</text>
<g transform="translate(29.3,337.3) rotate(-90)"><text x="0.0" y="0.0" font-family="Liberation Serif" font-weight="bold" font-size="32" fill="#6c6c6c">Nu</text><text x="42.5" y="6.5" font-family="Liberation Serif" font-weight="bold" font-size="23" fill="#6c6c6c">L</text></g>
<text x="380.7" y="707.3" font-family="Liberation Serif" font-weight="bold" font-size="32" fill="#757575" textLength="105.7" lengthAdjust="spacingAndGlyphs">θ (deg.)</text>
<text x="330.3" y="765.0" font-family="Liberation Serif" font-weight="bold" font-size="35.5" fill="#000" textLength="40.7" lengthAdjust="spacingAndGlyphs">(a)</text>
<text x="394.5" y="765.0" font-family="Liberation Serif" font-weight="bold" font-size="35.5" fill="#000" textLength="121.4" lengthAdjust="spacingAndGlyphs">Model-1</text>
<g transform="translate(24,1103.2) rotate(-90)"><text x="-1.0" y="0.0" font-family="Liberation Sans" font-weight="bold" font-size="33" fill="#6c6c6c" textLength="39.3" lengthAdjust="spacingAndGlyphs">Nu</text></g>
<text x="384.4" y="1501.0" font-family="Liberation Serif" font-weight="bold" font-size="32" fill="#757575" textLength="106.6" lengthAdjust="spacingAndGlyphs">θ (deg.)</text>
<text x="330.6" y="1548.0" font-family="Liberation Serif" font-weight="bold" font-size="35.5" fill="#000" textLength="40.3" lengthAdjust="spacingAndGlyphs">(b)</text>
<text x="395.0" y="1548.0" font-family="Liberation Serif" font-weight="bold" font-size="35.5" fill="#000" textLength="122.6" lengthAdjust="spacingAndGlyphs">Model-6</text>
</svg>
</body></html>
